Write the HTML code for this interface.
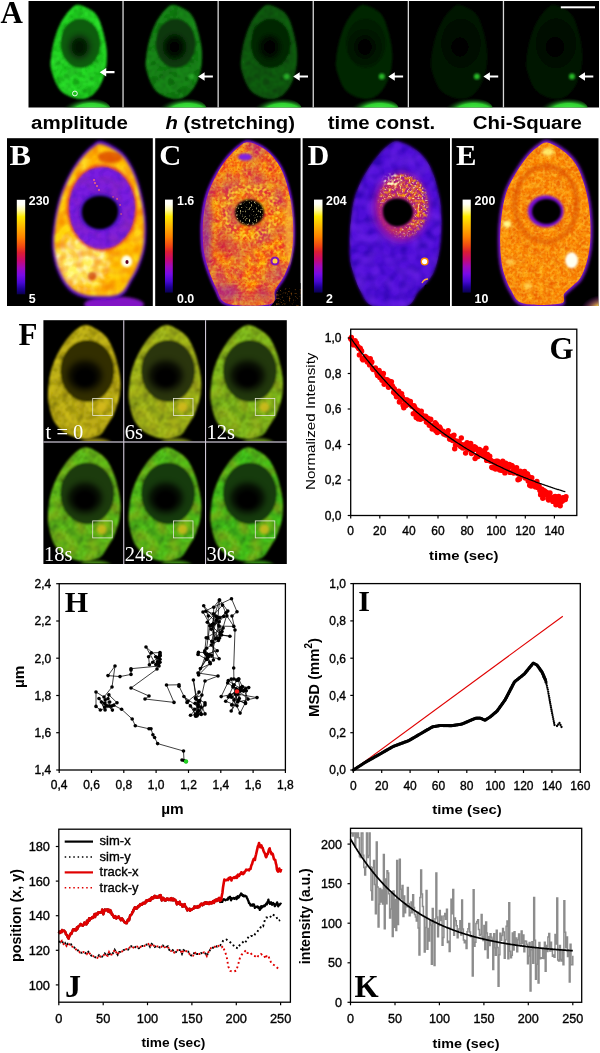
<!DOCTYPE html>
<html><head><meta charset="utf-8"><style>
html,body{margin:0;padding:0;background:#fff;}
body{width:600px;height:1053px;overflow:hidden;}
svg{display:block;will-change:transform;}
</style></head><body>
<svg width="600" height="1053" viewBox="0 0 600 1053">
<defs>
<filter id="soft" x="-20%" y="-20%" width="140%" height="140%"><feGaussianBlur stdDeviation="0.8"/></filter>
<filter id="soft2" x="-100%" y="-100%" width="300%" height="300%"><feGaussianBlur stdDeviation="1.6"/></filter>
<filter id="soft3" x="-100%" y="-100%" width="300%" height="300%"><feGaussianBlur stdDeviation="3"/></filter>
<filter id="ndark" x="0" y="0" width="100%" height="100%"><feTurbulence type="fractalNoise" baseFrequency="0.12" numOctaves="1" seed="4"/><feColorMatrix type="matrix" values="0 0 0 0 0  0 0 0 0 0  0 0 0 0 0  2.6 0 0 0 -1.05" result="n"/><feComposite in="SourceGraphic" in2="n" operator="in"/></filter>
<filter id="nlight" x="0" y="0" width="100%" height="100%"><feTurbulence type="fractalNoise" baseFrequency="0.09" numOctaves="1" seed="9"/><feColorMatrix type="matrix" values="0 0 0 0 0  0 0 0 0 0  0 0 0 0 0  2.4 0 0 0 -0.9" result="n"/><feComposite in="SourceGraphic" in2="n" operator="in"/></filter>
<filter id="nfine" x="0" y="0" width="100%" height="100%"><feTurbulence type="fractalNoise" baseFrequency="0.35" numOctaves="1" seed="2"/><feColorMatrix type="matrix" values="0 0 0 0 0  0 0 0 0 0  0 0 0 0 0  3.2 0 0 0 -1.35" result="n"/><feComposite in="SourceGraphic" in2="n" operator="in"/></filter>
<filter id="nfine2" x="0" y="0" width="100%" height="100%"><feTurbulence type="fractalNoise" baseFrequency="0.55" numOctaves="1" seed="13"/><feColorMatrix type="matrix" values="0 0 0 0 0  0 0 0 0 0  0 0 0 0 0  4 0 0 0 -2.2" result="n"/><feComposite in="SourceGraphic" in2="n" operator="in"/></filter>
<filter id="nmid" x="0" y="0" width="100%" height="100%"><feTurbulence type="fractalNoise" baseFrequency="0.18" numOctaves="1" seed="17"/><feColorMatrix type="matrix" values="0 0 0 0 0  0 0 0 0 0  0 0 0 0 0  2.4 0 0 0 -0.95" result="n"/><feComposite in="SourceGraphic" in2="n" operator="in"/></filter>
<filter id="nbig" x="0" y="0" width="100%" height="100%"><feTurbulence type="fractalNoise" baseFrequency="0.045" numOctaves="1" seed="23"/><feColorMatrix type="matrix" values="0 0 0 0 0  0 0 0 0 0  0 0 0 0 0  2.4 0 0 0 -0.9" result="n"/><feComposite in="SourceGraphic" in2="n" operator="in"/></filter>
<linearGradient id="fire" x1="0" y1="1" x2="0" y2="0">
<stop offset="0" stop-color="#0a0050"/><stop offset="0.06" stop-color="#1e0096"/><stop offset="0.12" stop-color="#4608d2"/><stop offset="0.2" stop-color="#780ae6"/><stop offset="0.28" stop-color="#a00abe"/><stop offset="0.36" stop-color="#c80a6e"/><stop offset="0.44" stop-color="#dc1e32"/><stop offset="0.5" stop-color="#f04614"/><stop offset="0.6" stop-color="#ff8200"/><stop offset="0.73" stop-color="#ffbe00"/><stop offset="0.82" stop-color="#ffeb00"/><stop offset="0.89" stop-color="#fffaa0"/><stop offset="0.95" stop-color="#fffff5"/><stop offset="1" stop-color="#ffffff"/></linearGradient>

<path id="cellA" d="M51.0,4.0 C55.0,4.9 63.0,8.1 67.0,12.8 C71.0,17.5 73.1,25.3 75.0,32.0 C76.9,38.7 78.1,46.4 78.4,52.8 C78.7,59.2 78.1,64.8 76.8,70.4 C75.5,76.0 73.1,82.1 70.4,86.4 C67.7,90.7 64.5,94.1 60.8,96.0 C57.1,97.9 52.8,98.7 48.0,97.6 C43.2,96.5 36.1,94.1 32.0,89.6 C27.9,85.1 24.8,75.7 23.2,70.4 C21.6,65.1 21.9,63.2 22.4,57.6 C22.9,52.0 24.5,43.2 26.4,36.8 C28.3,30.4 30.8,24.1 33.6,19.2 C36.4,14.3 40.3,9.7 43.2,7.2 C46.1,4.7 47.0,3.1 51.0,4.0Z"/>
<clipPath id="clipA"><path d="M51.0,4.0 C55.0,4.9 63.0,8.1 67.0,12.8 C71.0,17.5 73.1,25.3 75.0,32.0 C76.9,38.7 78.1,46.4 78.4,52.8 C78.7,59.2 78.1,64.8 76.8,70.4 C75.5,76.0 73.1,82.1 70.4,86.4 C67.7,90.7 64.5,94.1 60.8,96.0 C57.1,97.9 52.8,98.7 48.0,97.6 C43.2,96.5 36.1,94.1 32.0,89.6 C27.9,85.1 24.8,75.7 23.2,70.4 C21.6,65.1 21.9,63.2 22.4,57.6 C22.9,52.0 24.5,43.2 26.4,36.8 C28.3,30.4 30.8,24.1 33.6,19.2 C36.4,14.3 40.3,9.7 43.2,7.2 C46.1,4.7 47.0,3.1 51.0,4.0Z"/></clipPath>
<clipPath id="clipAsub"><rect x="0" y="0" width="94" height="106.5"/></clipPath>
<radialGradient id="botA" cx="0.62" cy="0.62" r="0.6"><stop offset="0" stop-color="#50ff50"/><stop offset="0.6" stop-color="#30d030"/><stop offset="1" stop-color="#0a300a" stop-opacity="0"/></radialGradient>
<radialGradient id="nucA" cx="0.48" cy="0.6" r="0.55"><stop offset="0" stop-color="#000"/><stop offset="0.35" stop-color="#000" stop-opacity="0.85"/><stop offset="1" stop-color="#000" stop-opacity="0"/></radialGradient>
<clipPath id="clipB"><path d="M102.5,141.2 C107.5,142.4 117.1,147.3 122.5,152.5 C127.9,157.7 131.7,165.0 135.0,172.5 C138.3,180.0 140.7,189.2 142.5,197.5 C144.3,205.8 145.6,214.2 146.0,222.5 C146.4,230.8 146.2,240.0 145.0,247.5 C143.8,255.0 141.3,261.7 139.0,267.5 C136.7,273.3 133.5,278.1 131.0,282.5 C128.5,286.9 127.2,291.2 124.0,294.0 C120.8,296.8 118.5,298.3 112.0,299.0 C105.5,299.7 92.3,299.7 85.0,298.0 C77.7,296.3 72.7,293.7 68.0,289.0 C63.3,284.3 59.6,276.9 57.0,270.0 C54.4,263.1 52.8,255.0 52.3,247.5 C51.8,240.0 52.6,232.9 53.7,225.0 C54.8,217.1 56.4,207.9 58.7,200.0 C61.0,192.1 64.0,184.6 67.5,177.5 C71.0,170.4 75.8,162.9 80.0,157.5 C84.2,152.1 88.8,147.7 92.5,145.0 C96.2,142.3 97.5,139.9 102.5,141.2Z"/></clipPath>
<clipPath id="clipPanelB"><rect x="7" y="138.2" width="145.8" height="167.8"/></clipPath>
<clipPath id="clipNucB"><ellipse cx="102" cy="208" rx="33" ry="41"/></clipPath>
<mask id="maskB"><path d="M102.5,141.2 C107.5,142.4 117.1,147.3 122.5,152.5 C127.9,157.7 131.7,165.0 135.0,172.5 C138.3,180.0 140.7,189.2 142.5,197.5 C144.3,205.8 145.6,214.2 146.0,222.5 C146.4,230.8 146.2,240.0 145.0,247.5 C143.8,255.0 141.3,261.7 139.0,267.5 C136.7,273.3 133.5,278.1 131.0,282.5 C128.5,286.9 127.2,291.2 124.0,294.0 C120.8,296.8 118.5,298.3 112.0,299.0 C105.5,299.7 92.3,299.7 85.0,298.0 C77.7,296.3 72.7,293.7 68.0,289.0 C63.3,284.3 59.6,276.9 57.0,270.0 C54.4,263.1 52.8,255.0 52.3,247.5 C51.8,240.0 52.6,232.9 53.7,225.0 C54.8,217.1 56.4,207.9 58.7,200.0 C61.0,192.1 64.0,184.6 67.5,177.5 C71.0,170.4 75.8,162.9 80.0,157.5 C84.2,152.1 88.8,147.7 92.5,145.0 C96.2,142.3 97.5,139.9 102.5,141.2Z" fill="#fff" transform="translate(99,222) scale(0.96) translate(-99,-222)" filter="url(#soft2)"/></mask>
<mask id="mBL"><ellipse cx="80" cy="262" rx="30" ry="30" fill="#fff" filter="url(#soft3)"/></mask>
<clipPath id="clipC"><path d="M248.2,140.2 C252.9,140.6 260.6,143.6 266.2,147.9 C271.8,152.2 277.6,158.7 281.7,166.0 C285.8,173.3 288.6,182.8 290.8,191.8 C293.0,200.8 294.1,211.6 294.7,220.2 C295.3,228.8 295.3,236.2 294.7,243.5 C294.1,250.8 292.5,258.2 290.8,264.2 C289.1,270.2 286.8,275.1 284.3,279.7 C281.8,284.3 278.1,287.6 276.0,292.0 C273.9,296.4 279.5,303.7 271.4,306.0 C263.3,308.3 237.0,308.7 227.5,306.0 C218.0,303.3 218.7,297.8 214.6,290.0 C210.5,282.2 205.4,268.5 203.0,259.0 C200.6,249.5 200.6,240.9 200.4,233.2 C200.2,225.4 200.8,219.0 201.7,212.5 C202.5,206.0 203.6,200.4 205.5,194.4 C207.4,188.4 210.1,182.3 213.3,176.3 C216.5,170.3 220.8,163.4 224.9,158.2 C229.0,153.0 233.9,148.3 237.8,145.3 C241.7,142.3 243.5,139.8 248.2,140.2Z"/></clipPath>
<clipPath id="clipPanelC"><rect x="155.2" y="138.2" width="145.4" height="167.8"/></clipPath>
<mask id="maskC"><path d="M248.2,140.2 C252.9,140.6 260.6,143.6 266.2,147.9 C271.8,152.2 277.6,158.7 281.7,166.0 C285.8,173.3 288.6,182.8 290.8,191.8 C293.0,200.8 294.1,211.6 294.7,220.2 C295.3,228.8 295.3,236.2 294.7,243.5 C294.1,250.8 292.5,258.2 290.8,264.2 C289.1,270.2 286.8,275.1 284.3,279.7 C281.8,284.3 278.1,287.6 276.0,292.0 C273.9,296.4 279.5,303.7 271.4,306.0 C263.3,308.3 237.0,308.7 227.5,306.0 C218.0,303.3 218.7,297.8 214.6,290.0 C210.5,282.2 205.4,268.5 203.0,259.0 C200.6,249.5 200.6,240.9 200.4,233.2 C200.2,225.4 200.8,219.0 201.7,212.5 C202.5,206.0 203.6,200.4 205.5,194.4 C207.4,188.4 210.1,182.3 213.3,176.3 C216.5,170.3 220.8,163.4 224.9,158.2 C229.0,153.0 233.9,148.3 237.8,145.3 C241.7,142.3 243.5,139.8 248.2,140.2Z" fill="#fff" transform="translate(252,225) scale(0.955,0.975) translate(-252,-225)" filter="url(#soft)"/></mask>
<clipPath id="clipHoleC"><ellipse cx="249.5" cy="212.5" rx="14.5" ry="13"/></clipPath>
<mask id="annC"><ellipse cx="250" cy="212" rx="26" ry="24" fill="none" stroke="#fff" stroke-width="10" filter="url(#soft2)"/></mask>
<clipPath id="clipD"><path d="M398.7,141.5 C403.4,142.4 411.6,146.4 416.8,150.5 C422.0,154.6 426.0,158.7 429.7,166.0 C433.4,173.3 436.9,185.4 438.8,194.4 C440.8,203.4 441.2,211.6 441.4,220.2 C441.6,228.8 441.2,237.9 440.1,246.1 C439.0,254.3 437.0,263.3 434.9,269.3 C432.8,275.3 430.0,278.4 427.2,282.2 C424.4,286.0 421.4,288.0 418.0,292.0 C414.6,296.0 414.0,303.7 406.5,306.0 C399.0,308.3 380.6,308.7 372.9,306.0 C365.1,303.3 363.6,297.0 360.0,290.0 C356.4,283.0 352.7,271.9 351.0,264.2 C349.3,256.4 349.7,250.8 349.7,243.5 C349.7,236.2 350.1,227.9 351.0,220.2 C351.9,212.4 352.4,204.7 354.8,197.0 C357.2,189.3 361.3,180.7 365.2,173.8 C369.1,166.9 374.1,160.4 378.0,155.7 C381.9,150.9 384.9,147.7 388.4,145.3 C391.8,142.9 394.0,140.6 398.7,141.5Z"/></clipPath>
<clipPath id="clipPanelD"><rect x="302.6" y="138.2" width="147.4" height="167.8"/></clipPath>
<radialGradient id="ringG" cx="0.62" cy="0.3" r="0.75"><stop offset="0" stop-color="#fff"/><stop offset="0.6" stop-color="#fff"/><stop offset="1" stop-color="#444"/></radialGradient>
<mask id="ringD"><rect x="300" y="138" width="150" height="168" fill="#000"/><ellipse cx="403" cy="206" rx="25" ry="32" fill="url(#ringG)" filter="url(#soft)"/><ellipse cx="397.5" cy="212.5" rx="17" ry="15.5" fill="#000" filter="url(#soft)"/><path d="M372,200 L392,215 L392,240 L372,240Z" fill="#000" opacity="0.6" filter="url(#soft2)"/></mask>
<mask id="mD2"><ellipse cx="392" cy="181" rx="9" ry="7" fill="#fff" filter="url(#soft2)"/></mask>
<clipPath id="clipE"><path d="M548.3,140.2 C553.0,141.3 561.2,146.2 566.4,150.5 C571.6,154.8 575.6,159.1 579.3,166.0 C583.0,172.9 586.2,183.2 588.4,191.8 C590.5,200.4 591.6,209.1 592.2,217.7 C592.8,226.3 592.8,235.8 592.2,243.5 C591.6,251.2 590.1,258.2 588.4,264.2 C586.7,270.2 584.3,275.8 581.9,279.7 C579.5,283.6 577.0,284.7 574.2,287.4 C571.4,290.1 567.2,292.9 565.0,296.0 C562.8,299.1 568.3,304.3 561.2,306.0 C554.1,307.7 531.1,308.2 522.5,306.0 C513.9,303.8 513.3,298.7 509.6,292.6 C505.9,286.5 502.4,277.5 500.5,269.3 C498.6,261.1 498.2,252.1 498.0,243.5 C497.8,234.9 498.1,226.3 499.2,217.7 C500.3,209.1 501.8,199.6 504.4,191.8 C507.0,184.1 510.8,177.6 514.7,171.2 C518.6,164.8 523.8,157.6 527.7,153.1 C531.6,148.6 534.6,146.2 538.0,144.0 C541.4,141.8 543.6,139.1 548.3,140.2Z"/></clipPath>
<clipPath id="clipPanelE"><rect x="451.8" y="138.2" width="146.7" height="167.8"/></clipPath>
<mask id="maskE"><path d="M548.3,140.2 C553.0,141.3 561.2,146.2 566.4,150.5 C571.6,154.8 575.6,159.1 579.3,166.0 C583.0,172.9 586.2,183.2 588.4,191.8 C590.5,200.4 591.6,209.1 592.2,217.7 C592.8,226.3 592.8,235.8 592.2,243.5 C591.6,251.2 590.1,258.2 588.4,264.2 C586.7,270.2 584.3,275.8 581.9,279.7 C579.5,283.6 577.0,284.7 574.2,287.4 C571.4,290.1 567.2,292.9 565.0,296.0 C562.8,299.1 568.3,304.3 561.2,306.0 C554.1,307.7 531.1,308.2 522.5,306.0 C513.9,303.8 513.3,298.7 509.6,292.6 C505.9,286.5 502.4,277.5 500.5,269.3 C498.6,261.1 498.2,252.1 498.0,243.5 C497.8,234.9 498.1,226.3 499.2,217.7 C500.3,209.1 501.8,199.6 504.4,191.8 C507.0,184.1 510.8,177.6 514.7,171.2 C518.6,164.8 523.8,157.6 527.7,153.1 C531.6,148.6 534.6,146.2 538.0,144.0 C541.4,141.8 543.6,139.1 548.3,140.2Z" fill="#fff" transform="translate(546,225) scale(0.955,0.97) translate(-546,-225)" filter="url(#soft)"/></mask>
<radialGradient id="brE" cx="0.6" cy="0.7" r="0.6"><stop offset="0" stop-color="#fffff0"/><stop offset="0.4" stop-color="#ffd040"/><stop offset="1" stop-color="#a020c0" stop-opacity="0"/></radialGradient>
<path id="cellF" d="M41.9,4.7 C45.7,4.5 50.4,7.3 54.0,9.5 C57.6,11.7 60.8,14.0 63.5,17.6 C66.2,21.2 68.3,26.1 70.2,31.0 C72.1,36.0 73.8,41.9 74.9,47.3 C76.0,52.7 76.9,58.3 77.0,63.5 C77.1,68.7 76.7,73.1 75.6,78.3 C74.5,83.5 72.2,90.0 70.2,94.5 C68.2,99.0 65.3,102.4 63.5,105.3 C61.7,108.2 61.0,110.2 59.4,112.0 C57.8,113.8 57.1,114.9 54.0,116.0 C50.9,117.1 45.7,119.2 40.5,118.8 C35.3,118.4 27.9,116.3 23.0,113.4 C18.1,110.5 13.7,106.2 10.8,101.3 C7.9,96.3 6.4,88.9 5.4,83.7 C4.4,78.5 4.4,75.6 4.7,70.2 C5.0,64.8 5.9,57.1 7.4,51.3 C8.9,45.4 11.1,40.0 13.5,35.1 C15.9,30.2 18.7,25.7 21.6,21.6 C24.5,17.6 27.6,13.6 31.0,10.8 C34.4,8.0 38.1,4.9 41.9,4.7Z"/>
<clipPath id="clipF"><path d="M41.9,4.7 C45.7,4.5 50.4,7.3 54.0,9.5 C57.6,11.7 60.8,14.0 63.5,17.6 C66.2,21.2 68.3,26.1 70.2,31.0 C72.1,36.0 73.8,41.9 74.9,47.3 C76.0,52.7 76.9,58.3 77.0,63.5 C77.1,68.7 76.7,73.1 75.6,78.3 C74.5,83.5 72.2,90.0 70.2,94.5 C68.2,99.0 65.3,102.4 63.5,105.3 C61.7,108.2 61.0,110.2 59.4,112.0 C57.8,113.8 57.1,114.9 54.0,116.0 C50.9,117.1 45.7,119.2 40.5,118.8 C35.3,118.4 27.9,116.3 23.0,113.4 C18.1,110.5 13.7,106.2 10.8,101.3 C7.9,96.3 6.4,88.9 5.4,83.7 C4.4,78.5 4.4,75.6 4.7,70.2 C5.0,64.8 5.9,57.1 7.4,51.3 C8.9,45.4 11.1,40.0 13.5,35.1 C15.9,30.2 18.7,25.7 21.6,21.6 C24.5,17.6 27.6,13.6 31.0,10.8 C34.4,8.0 38.1,4.9 41.9,4.7Z"/></clipPath>
<clipPath id="clipFsub"><rect x="0" y="0" width="80" height="121"/></clipPath>
</defs>
<rect width="600" height="1053" fill="#fff"/>
<rect x="28.5" y="1" width="570.5" height="106.5" fill="#000"/>
<g transform="translate(28.5,1)" clip-path="url(#clipAsub)">
<g filter="url(#soft)">
<use href="#cellA" fill="rgb(36,222,36)"/>
<rect x="15" y="0" width="70" height="100" fill="rgb(10,120,10)" opacity="0.55" filter="url(#ndark)" clip-path="url(#clipA)"/>
<rect x="15" y="0" width="70" height="100" fill="rgb(60,250,60)" opacity="0.5" filter="url(#nlight)" clip-path="url(#clipA)"/>
<rect x="15" y="0" width="70" height="100" fill="#000" opacity="0.2" filter="url(#nfine)" clip-path="url(#clipA)"/>
<circle cx="47.0" cy="81.0" r="3.2" fill="rgb(10,110,10)" opacity="0.45"/>
<circle cx="38.0" cy="75.0" r="2.6" fill="rgb(10,110,10)" opacity="0.45"/>
<circle cx="63.0" cy="78.0" r="2.4" fill="rgb(10,110,10)" opacity="0.45"/>
<circle cx="30.0" cy="62.0" r="2.5" fill="rgb(10,110,10)" opacity="0.45"/>
<circle cx="56.0" cy="90.0" r="2.2" fill="rgb(10,110,10)" opacity="0.45"/>
<circle cx="68.0" cy="60.0" r="2.0" fill="rgb(10,110,10)" opacity="0.45"/>
<ellipse cx="52" cy="42.4" rx="20" ry="24.8" fill="rgb(14,92,14)"/>
<ellipse cx="51" cy="46" rx="10" ry="11" fill="#000" opacity="0.75" filter="url(#soft3)"/>
</g>
<ellipse cx="57.0" cy="108" rx="25" ry="11.5" fill="url(#botA)"/>
<path d="M71.2,71.2 l6.5,-4.2 v3.1 h8.3 v2.2 h-8.3 v3.1 z" fill="#fff"/>
<circle cx="46.4" cy="92.5" r="2.4" fill="none" stroke="#fff" stroke-width="0.9"/>
</g>
<g transform="translate(123.6,1)" clip-path="url(#clipAsub)">
<g filter="url(#soft)">
<use href="#cellA" fill="rgb(22,138,22)"/>
<rect x="15" y="0" width="70" height="100" fill="rgb(6,74,6)" opacity="0.55" filter="url(#ndark)" clip-path="url(#clipA)"/>
<rect x="15" y="0" width="70" height="100" fill="rgb(37,155,37)" opacity="0.5" filter="url(#nlight)" clip-path="url(#clipA)"/>
<rect x="15" y="0" width="70" height="100" fill="#000" opacity="0.2" filter="url(#nfine)" clip-path="url(#clipA)"/>
<circle cx="47.0" cy="81.0" r="3.2" fill="rgb(6,68,6)" opacity="0.45"/>
<circle cx="38.0" cy="75.0" r="2.6" fill="rgb(6,68,6)" opacity="0.45"/>
<circle cx="63.0" cy="78.0" r="2.4" fill="rgb(6,68,6)" opacity="0.45"/>
<circle cx="30.0" cy="62.0" r="2.5" fill="rgb(6,68,6)" opacity="0.45"/>
<circle cx="56.0" cy="90.0" r="2.2" fill="rgb(6,68,6)" opacity="0.45"/>
<circle cx="68.0" cy="60.0" r="2.0" fill="rgb(6,68,6)" opacity="0.45"/>
<ellipse cx="52" cy="42.4" rx="20" ry="24.8" fill="rgb(9,57,9)"/>
<ellipse cx="51" cy="46" rx="10" ry="11" fill="#000" opacity="0.95" filter="url(#soft3)"/>
</g>
<ellipse cx="58.0" cy="108" rx="25" ry="11.5" fill="url(#botA)"/>
<circle cx="68" cy="75.5" r="3" fill="rgb(40,165,40)" filter="url(#soft)"/>
<path d="M74.5,75.5 l6.5,-4.2 v3.1 h8.3 v2.2 h-8.3 v3.1 z" fill="#fff"/>
</g>
<g transform="translate(218.7,1)" clip-path="url(#clipAsub)">
<g filter="url(#soft)">
<use href="#cellA" fill="rgb(15,95,15)"/>
<rect x="15" y="0" width="70" height="100" fill="rgb(4,52,4)" opacity="0.55" filter="url(#ndark)" clip-path="url(#clipA)"/>
<rect x="15" y="0" width="70" height="100" fill="rgb(26,108,26)" opacity="0.5" filter="url(#nlight)" clip-path="url(#clipA)"/>
<rect x="15" y="0" width="70" height="100" fill="#000" opacity="0.2" filter="url(#nfine)" clip-path="url(#clipA)"/>
<circle cx="47.0" cy="81.0" r="3.2" fill="rgb(4,47,4)" opacity="0.45"/>
<circle cx="38.0" cy="75.0" r="2.6" fill="rgb(4,47,4)" opacity="0.45"/>
<circle cx="63.0" cy="78.0" r="2.4" fill="rgb(4,47,4)" opacity="0.45"/>
<circle cx="30.0" cy="62.0" r="2.5" fill="rgb(4,47,4)" opacity="0.45"/>
<circle cx="56.0" cy="90.0" r="2.2" fill="rgb(4,47,4)" opacity="0.45"/>
<circle cx="68.0" cy="60.0" r="2.0" fill="rgb(4,47,4)" opacity="0.45"/>
<ellipse cx="52" cy="42.4" rx="20" ry="24.8" fill="rgb(6,40,6)"/>
<ellipse cx="51" cy="46" rx="10" ry="11" fill="#000" opacity="0.95" filter="url(#soft3)"/>
</g>
<ellipse cx="58.0" cy="108" rx="25" ry="11.5" fill="url(#botA)"/>
<circle cx="68" cy="75.5" r="3" fill="rgb(40,172,40)" filter="url(#soft)"/>
<path d="M74.5,75.5 l6.5,-4.2 v3.1 h8.3 v2.2 h-8.3 v3.1 z" fill="#fff"/>
</g>
<g transform="translate(313.8,1)" clip-path="url(#clipAsub)">
<g filter="url(#soft)">
<use href="#cellA" fill="rgb(6,38,6)"/>
<ellipse cx="52" cy="42.4" rx="20" ry="24.8" fill="rgb(4,26,4)"/>
<ellipse cx="51" cy="46" rx="10" ry="11" fill="#000" opacity="0.95" filter="url(#soft3)"/>
</g>
<ellipse cx="60.0" cy="108" rx="25" ry="11.5" fill="url(#botA)"/>
<circle cx="68" cy="75.5" r="3" fill="rgb(40,183,40)" filter="url(#soft)"/>
<path d="M74.5,75.5 l6.5,-4.2 v3.1 h8.3 v2.2 h-8.3 v3.1 z" fill="#fff"/>
</g>
<g transform="translate(408.9,1)" clip-path="url(#clipAsub)">
<g filter="url(#soft)">
<use href="#cellA" fill="rgb(4,23,4)"/>
<ellipse cx="52" cy="42.4" rx="20" ry="24.8" fill="rgb(3,16,3)"/>
<ellipse cx="51" cy="46" rx="10" ry="11" fill="#000" opacity="0.95" filter="url(#soft3)"/>
</g>
<ellipse cx="59.0" cy="108" rx="25" ry="11.5" fill="url(#botA)"/>
<circle cx="68" cy="75.5" r="3" fill="rgb(40,185,40)" filter="url(#soft)"/>
<path d="M74.5,75.5 l6.5,-4.2 v3.1 h8.3 v2.2 h-8.3 v3.1 z" fill="#fff"/>
</g>
<g transform="translate(504.0,1)" clip-path="url(#clipAsub)">
<g filter="url(#soft)">
<use href="#cellA" fill="rgb(3,20,3)"/>
<ellipse cx="52" cy="42.4" rx="20" ry="24.8" fill="rgb(2,14,2)"/>
<ellipse cx="51" cy="46" rx="10" ry="11" fill="#000" opacity="0.95" filter="url(#soft3)"/>
</g>
<ellipse cx="59.0" cy="108" rx="25" ry="11.5" fill="url(#botA)"/>
<circle cx="68" cy="75.5" r="3" fill="rgb(40,186,40)" filter="url(#soft)"/>
<path d="M74.5,75.5 l6.5,-4.2 v3.1 h8.3 v2.2 h-8.3 v3.1 z" fill="#fff"/>
</g>
<rect x="122.4" y="1" width="1.3" height="106.5" fill="#d8d8d8"/>
<rect x="217.5" y="1" width="1.3" height="106.5" fill="#d8d8d8"/>
<rect x="312.6" y="1" width="1.3" height="106.5" fill="#d8d8d8"/>
<rect x="407.7" y="1" width="1.3" height="106.5" fill="#d8d8d8"/>
<rect x="502.8" y="1" width="1.3" height="106.5" fill="#d8d8d8"/>
<rect x="560.8" y="6.3" width="34.2" height="2" fill="#fff"/>
<text x="0.6" y="23" font-family='"Liberation Serif", serif' font-weight="bold" font-size="31">A</text>
<text x="31.0" y="128.8" font-family='"Liberation Sans", sans-serif' font-weight="bold" font-size="18.9" textLength="97.0" lengthAdjust="spacingAndGlyphs">amplitude</text>
<text x="165.5" y="128.8" font-family='"Liberation Sans", sans-serif' font-weight="bold" font-size="18.9" textLength="129.5" lengthAdjust="spacingAndGlyphs"><tspan font-style="italic">h</tspan> (stretching)</text>
<text x="327.8" y="128.8" font-family='"Liberation Sans", sans-serif' font-weight="bold" font-size="18.9" textLength="107.5" lengthAdjust="spacingAndGlyphs">time const.</text>
<text x="472.8" y="128.8" font-family='"Liberation Sans", sans-serif' font-weight="bold" font-size="18.9" textLength="109.0" lengthAdjust="spacingAndGlyphs">Chi-Square</text>
<rect x="7.0" y="138.2" width="145.8" height="167.8" fill="#000"/>
<rect x="155.2" y="138.2" width="145.4" height="167.8" fill="#000"/>
<rect x="302.6" y="138.2" width="147.4" height="167.8" fill="#000"/>
<rect x="451.8" y="138.2" width="146.7" height="167.8" fill="#000"/>
<g clip-path="url(#clipPanelB)">
<ellipse cx="114" cy="304.5" rx="30" ry="8" fill="#8a18d0" opacity="0.95" filter="url(#soft2)"/>
<path d="M102.5,141.2 C107.5,142.4 117.1,147.3 122.5,152.5 C127.9,157.7 131.7,165.0 135.0,172.5 C138.3,180.0 140.7,189.2 142.5,197.5 C144.3,205.8 145.6,214.2 146.0,222.5 C146.4,230.8 146.2,240.0 145.0,247.5 C143.8,255.0 141.3,261.7 139.0,267.5 C136.7,273.3 133.5,278.1 131.0,282.5 C128.5,286.9 127.2,291.2 124.0,294.0 C120.8,296.8 118.5,298.3 112.0,299.0 C105.5,299.7 92.3,299.7 85.0,298.0 C77.7,296.3 72.7,293.7 68.0,289.0 C63.3,284.3 59.6,276.9 57.0,270.0 C54.4,263.1 52.8,255.0 52.3,247.5 C51.8,240.0 52.6,232.9 53.7,225.0 C54.8,217.1 56.4,207.9 58.7,200.0 C61.0,192.1 64.0,184.6 67.5,177.5 C71.0,170.4 75.8,162.9 80.0,157.5 C84.2,152.1 88.8,147.7 92.5,145.0 C96.2,142.3 97.5,139.9 102.5,141.2Z" fill="#5a10c8" filter="url(#soft2)"/>
<g mask="url(#maskB)">
<rect x="45" y="138" width="105" height="168" fill="#ffb000"/>
<rect x="45" y="138" width="105" height="168" fill="#ffe830" opacity="0.9" filter="url(#nlight)"/>
<rect x="45" y="138" width="105" height="168" fill="#ffe000" opacity="0.7" filter="url(#nbig)"/>
<ellipse cx="80" cy="262" rx="26" ry="24" fill="#ffff80" opacity="0.7" filter="url(#soft3)"/>
<rect x="45" y="225" width="75" height="80" fill="#ffffd8" opacity="0.75" filter="url(#nmid)" mask="url(#mBL)"/>
<rect x="45" y="138" width="105" height="168" fill="#f06000" opacity="0.5" filter="url(#ndark)"/>
<ellipse cx="110" cy="157" rx="12" ry="6" fill="#d83800" opacity="0.7" filter="url(#soft2)"/>
<ellipse cx="92" cy="276" rx="4" ry="4" fill="#c02000" opacity="0.6" filter="url(#soft)"/>
<ellipse cx="126.6" cy="261.3" rx="5.5" ry="6" fill="#ffffe8" filter="url(#soft)"/>
<ellipse cx="127" cy="262" rx="1.6" ry="2" fill="#600020"/>
</g>
<ellipse cx="102" cy="208" rx="35.5" ry="43.5" fill="#e03030" opacity="0.7" filter="url(#soft2)"/>
<ellipse cx="102" cy="208" rx="33" ry="41" fill="#7a1ee0" filter="url(#soft)"/>
<g clip-path="url(#clipNucB)">
<rect x="68" y="166" width="68" height="84" fill="#5010c0" opacity="0.5" filter="url(#nmid)"/>
<rect x="68" y="166" width="68" height="84" fill="#a030a8" opacity="0.45" filter="url(#nlight)"/>
</g>
<circle cx="94" cy="180" r="0.9" fill="#ff7070"/>
<circle cx="97" cy="186" r="0.9" fill="#ff7070"/>
<circle cx="99" cy="190" r="0.9" fill="#ff7070"/>
<circle cx="113" cy="197" r="0.9" fill="#ff7070"/>
<circle cx="117" cy="199" r="0.9" fill="#ff7070"/>
<circle cx="120" cy="205" r="0.9" fill="#ff7070"/>
<circle cx="111" cy="202" r="0.9" fill="#ff7070"/>
<circle cx="95" cy="183" r="0.9" fill="#ff7070"/>
<circle cx="121" cy="214" r="0.9" fill="#ff7070"/>
<ellipse cx="100" cy="212" rx="21" ry="19" fill="#3a10b0" opacity="0.8" filter="url(#soft2)"/>
<path d="M82,212 C82,202 90,196 100,196 C110,196 118,202 118,211 C118,221 110,229 100,229 C90,229 82,222 82,212Z" fill="#000" filter="url(#soft)"/>
</g>
<text x="9.6" y="164.6" font-family='"Liberation Serif", serif' font-weight="bold" font-size="30" fill="#fff" textLength="21.5" lengthAdjust="spacingAndGlyphs">B</text>
<rect x="16.8" y="199.8" width="8.4" height="94.5" fill="url(#fire)"/>
<text x="28.8" y="205" font-family='"Liberation Sans", sans-serif' font-weight="bold" font-size="12.4" fill="#fff">230</text>
<text x="28.8" y="303" font-family='"Liberation Sans", sans-serif' font-weight="bold" font-size="12.4" fill="#fff">5</text>
<g clip-path="url(#clipPanelC)">
<path d="M248.2,140.2 C252.9,140.6 260.6,143.6 266.2,147.9 C271.8,152.2 277.6,158.7 281.7,166.0 C285.8,173.3 288.6,182.8 290.8,191.8 C293.0,200.8 294.1,211.6 294.7,220.2 C295.3,228.8 295.3,236.2 294.7,243.5 C294.1,250.8 292.5,258.2 290.8,264.2 C289.1,270.2 286.8,275.1 284.3,279.7 C281.8,284.3 278.1,287.6 276.0,292.0 C273.9,296.4 279.5,303.7 271.4,306.0 C263.3,308.3 237.0,308.7 227.5,306.0 C218.0,303.3 218.7,297.8 214.6,290.0 C210.5,282.2 205.4,268.5 203.0,259.0 C200.6,249.5 200.6,240.9 200.4,233.2 C200.2,225.4 200.8,219.0 201.7,212.5 C202.5,206.0 203.6,200.4 205.5,194.4 C207.4,188.4 210.1,182.3 213.3,176.3 C216.5,170.3 220.8,163.4 224.9,158.2 C229.0,153.0 233.9,148.3 237.8,145.3 C241.7,142.3 243.5,139.8 248.2,140.2Z" fill="#7010d0" filter="url(#soft)"/>
<g mask="url(#maskC)">
<rect x="195" y="138" width="105" height="168" fill="#ff8000"/>
<rect x="195" y="138" width="105" height="168" fill="#e81830" opacity="0.9" filter="url(#nlight)"/>
<rect x="195" y="138" width="105" height="168" fill="#ffd000" opacity="0.95" filter="url(#nmid)"/>
<rect x="195" y="138" width="105" height="168" fill="#c00860" opacity="0.4" filter="url(#ndark)"/>
<rect x="195" y="138" width="105" height="168" fill="#ffe030" opacity="0.6" filter="url(#nfine)"/>
<rect x="195" y="138" width="105" height="168" fill="#f03000" opacity="0.6" filter="url(#nfine2)"/>
<rect x="195" y="138" width="105" height="168" fill="#9010c0" opacity="0.35" filter="url(#nbig)"/>
</g>
<g clip-path="url(#clipC)">
<ellipse cx="206" cy="232" rx="5" ry="42" fill="#7010c8" opacity="0.6" filter="url(#soft3)"/>
<ellipse cx="226" cy="292" rx="13" ry="9" fill="#9010b0" opacity="0.55" filter="url(#soft3)"/>
<ellipse cx="262" cy="294" rx="9" ry="6" fill="#a01090" opacity="0.5" filter="url(#soft3)"/>
<ellipse cx="222" cy="246" rx="7" ry="9" fill="#c01050" opacity="0.5" filter="url(#soft3)"/>
<ellipse cx="289" cy="232" rx="4" ry="34" fill="#ffc830" opacity="0.6" filter="url(#soft2)"/>
<rect x="220" y="184" width="60" height="56" fill="#ffd830" opacity="0.8" filter="url(#nfine)" mask="url(#annC)"/>
</g>
<ellipse cx="245" cy="157" rx="7" ry="3.5" fill="#8020e0" filter="url(#soft)"/>
<ellipse cx="249.5" cy="212.5" rx="14.5" ry="13" fill="#000" filter="url(#soft)"/>
<rect x="234" y="199" width="31" height="27" fill="#fff0a0" opacity="0.9" filter="url(#nfine2)" clip-path="url(#clipHoleC)"/>
<circle cx="275" cy="261" r="3.5" fill="#ffd040" stroke="#8010c0" stroke-width="2"/>
<path d="M283,290 Q290,284 301,283 L301,306 L271,306 Z" fill="#000"/>
<rect x="268" y="288" width="33" height="18" fill="#ff9020" opacity="0.5" filter="url(#nfine2)"/>
</g>
<text x="159.2" y="164.7" font-family='"Liberation Serif", serif' font-weight="bold" font-size="30" fill="#fff" textLength="22.0" lengthAdjust="spacingAndGlyphs">C</text>
<rect x="165.0" y="199.6" width="7.8" height="93.0" fill="url(#fire)"/>
<text x="177.0" y="205" font-family='"Liberation Sans", sans-serif' font-weight="bold" font-size="12.4" fill="#fff">1.6</text>
<text x="177.0" y="303" font-family='"Liberation Sans", sans-serif' font-weight="bold" font-size="12.4" fill="#fff">0.0</text>
<g clip-path="url(#clipPanelD)">
<path d="M398.7,141.5 C403.4,142.4 411.6,146.4 416.8,150.5 C422.0,154.6 426.0,158.7 429.7,166.0 C433.4,173.3 436.9,185.4 438.8,194.4 C440.8,203.4 441.2,211.6 441.4,220.2 C441.6,228.8 441.2,237.9 440.1,246.1 C439.0,254.3 437.0,263.3 434.9,269.3 C432.8,275.3 430.0,278.4 427.2,282.2 C424.4,286.0 421.4,288.0 418.0,292.0 C414.6,296.0 414.0,303.7 406.5,306.0 C399.0,308.3 380.6,308.7 372.9,306.0 C365.1,303.3 363.6,297.0 360.0,290.0 C356.4,283.0 352.7,271.9 351.0,264.2 C349.3,256.4 349.7,250.8 349.7,243.5 C349.7,236.2 350.1,227.9 351.0,220.2 C351.9,212.4 352.4,204.7 354.8,197.0 C357.2,189.3 361.3,180.7 365.2,173.8 C369.1,166.9 374.1,160.4 378.0,155.7 C381.9,150.9 384.9,147.7 388.4,145.3 C391.8,142.9 394.0,140.6 398.7,141.5Z" fill="#5010d8" filter="url(#soft2)"/>
<g clip-path="url(#clipD)">
<rect x="345" y="138" width="100" height="168" fill="#2000a0" opacity="0.6" filter="url(#ndark)"/>
<rect x="345" y="138" width="100" height="168" fill="#8030f0" opacity="0.5" filter="url(#nlight)"/>
</g>
<ellipse cx="401" cy="207" rx="28" ry="35" fill="#a01898" opacity="0.8" filter="url(#soft3)"/>
<ellipse cx="401" cy="206" rx="24" ry="30" fill="#c02070" opacity="0.6" filter="url(#soft2)"/>
<g mask="url(#ringD)">
<rect x="370" y="170" width="65" height="75" fill="#f05000" opacity="0.6" filter="url(#nmid)"/>
<rect x="370" y="170" width="65" height="75" fill="#ffb000" opacity="0.85" filter="url(#nfine)"/>
<rect x="370" y="170" width="65" height="75" fill="#ffffb0" opacity="1" filter="url(#nfine2)"/>
</g>
<rect x="380" y="170" width="25" height="22" fill="#ffffe0" opacity="0.9" filter="url(#nfine)" mask="url(#mD2)"/>
<path d="M383,212 C382,203 390,198 398,198.5 C407,199 413,205 413,212 C413,220 406,226 397,226.5 C389,226 383,220 383,212Z" fill="#000" filter="url(#soft)"/>
<circle cx="424.6" cy="261.6" r="3.3" fill="#fff" stroke="#ff9000" stroke-width="1.4"/>
<path d="M422,283 q2,-4 6,-4" stroke="#ffb040" stroke-width="1.4" fill="none"/>
<path d="M425,285 L451,282 L451,306 L420,306 Z" fill="#000"/>
</g>
<text x="307.8" y="164.7" font-family='"Liberation Serif", serif' font-weight="bold" font-size="30" fill="#fff" textLength="21.5" lengthAdjust="spacingAndGlyphs">D</text>
<rect x="314.0" y="199.6" width="8.5" height="93.0" fill="url(#fire)"/>
<text x="326.0" y="205" font-family='"Liberation Sans", sans-serif' font-weight="bold" font-size="12.4" fill="#fff">204</text>
<text x="326.0" y="303" font-family='"Liberation Sans", sans-serif' font-weight="bold" font-size="12.4" fill="#fff">2</text>
<g clip-path="url(#clipPanelE)">
<ellipse cx="600" cy="306" rx="20" ry="14" fill="url(#brE)"/>
<path d="M548.3,140.2 C553.0,141.3 561.2,146.2 566.4,150.5 C571.6,154.8 575.6,159.1 579.3,166.0 C583.0,172.9 586.2,183.2 588.4,191.8 C590.5,200.4 591.6,209.1 592.2,217.7 C592.8,226.3 592.8,235.8 592.2,243.5 C591.6,251.2 590.1,258.2 588.4,264.2 C586.7,270.2 584.3,275.8 581.9,279.7 C579.5,283.6 577.0,284.7 574.2,287.4 C571.4,290.1 567.2,292.9 565.0,296.0 C562.8,299.1 568.3,304.3 561.2,306.0 C554.1,307.7 531.1,308.2 522.5,306.0 C513.9,303.8 513.3,298.7 509.6,292.6 C505.9,286.5 502.4,277.5 500.5,269.3 C498.6,261.1 498.2,252.1 498.0,243.5 C497.8,234.9 498.1,226.3 499.2,217.7 C500.3,209.1 501.8,199.6 504.4,191.8 C507.0,184.1 510.8,177.6 514.7,171.2 C518.6,164.8 523.8,157.6 527.7,153.1 C531.6,148.6 534.6,146.2 538.0,144.0 C541.4,141.8 543.6,139.1 548.3,140.2Z" fill="#7a18d0" filter="url(#soft2)"/>
<g mask="url(#maskE)">
<rect x="495" y="138" width="100" height="168" fill="#fa8200"/>
<rect x="495" y="138" width="100" height="168" fill="#e04800" opacity="0.5" filter="url(#nlight)"/>
<rect x="495" y="138" width="100" height="168" fill="#ffb818" opacity="0.7" filter="url(#nmid)"/>
<rect x="495" y="138" width="100" height="168" fill="#ffd040" opacity="0.5" filter="url(#nfine)"/>
<rect x="495" y="138" width="100" height="168" fill="#d83800" opacity="0.35" filter="url(#nfine2)"/>
<ellipse cx="546" cy="204" rx="31" ry="38" fill="none" stroke="#d84800" stroke-width="5" opacity="0.55" filter="url(#soft2)"/>
<ellipse cx="507" cy="224" rx="4" ry="3.5" fill="#ffff90" filter="url(#soft2)"/>
<ellipse cx="548" cy="152" rx="6" ry="4" fill="#ffff80" opacity="0.8" filter="url(#soft2)"/>
<ellipse cx="528" cy="286" rx="4" ry="3" fill="#ffe060" opacity="0.8" filter="url(#soft2)"/>
<ellipse cx="510" cy="262" rx="4" ry="3" fill="#ffe060" opacity="0.7" filter="url(#soft2)"/>
</g>
<ellipse cx="545.7" cy="211.2" rx="18" ry="16" fill="#7a10d0" filter="url(#soft)"/>
<ellipse cx="546.5" cy="211.5" rx="14.5" ry="12.5" fill="#000" filter="url(#soft)"/>
<ellipse cx="571.6" cy="260.3" rx="6.5" ry="8" fill="#fffff0" filter="url(#soft)"/>
</g>
<text x="456.0" y="164.7" font-family='"Liberation Serif", serif' font-weight="bold" font-size="30" fill="#fff" textLength="20.5" lengthAdjust="spacingAndGlyphs">E</text>
<rect x="462.6" y="199.6" width="8.2" height="93.0" fill="url(#fire)"/>
<text x="474.6" y="205" font-family='"Liberation Sans", sans-serif' font-weight="bold" font-size="12.4" fill="#fff">200</text>
<text x="474.6" y="303" font-family='"Liberation Sans", sans-serif' font-weight="bold" font-size="12.4" fill="#fff">10</text>
<rect x="43.4" y="320.2" width="243.4" height="243.8" fill="#000"/>
<g transform="translate(43.4,320.2)" clip-path="url(#clipFsub)">
<ellipse cx="52" cy="124" rx="16" ry="6" fill="rgb(200,186,22)" opacity="0.7" filter="url(#soft2)"/>
<g filter="url(#soft)">
<use href="#cellF" fill="rgb(200,186,22)"/>
<rect x="0" y="0" width="80" height="121" fill="#000" opacity="0.3" filter="url(#ndark)" clip-path="url(#clipF)"/>
<rect x="0" y="0" width="80" height="121" fill="rgb(210,160,30)" opacity="0.15" filter="url(#nlight)" clip-path="url(#clipF)"/>
<rect x="0" y="0" width="80" height="121" fill="#000" opacity="0.22" filter="url(#nfine)" clip-path="url(#clipF)"/>
<rect x="0" y="0" width="80" height="121" fill="rgb(229,213,25)" opacity="0.35" filter="url(#nmid)" clip-path="url(#clipF)"/>
<ellipse cx="43.9" cy="50.8" rx="27" ry="31" fill="rgb(50,46,5)"/>
</g>
<ellipse cx="41.5" cy="55.5" rx="17" ry="15" fill="#000" opacity="0.85" filter="url(#soft3)"/>
<ellipse cx="41.5" cy="57" rx="10" ry="9" fill="#000" filter="url(#soft2)"/>
<ellipse cx="58.5" cy="87" rx="5" ry="5" fill="rgb(220,190,30)" opacity="0.8" filter="url(#soft2)"/>
<rect x="49.3" y="78.3" width="19.5" height="17" fill="none" stroke="#e8e8d8" stroke-width="0.8"/>
<text x="2.2" y="118.6" font-family='"Liberation Serif", serif' font-size="20.5" fill="#fff">t = 0</text>
</g>
<g transform="translate(124.2,320.2)" clip-path="url(#clipFsub)">
<ellipse cx="52" cy="124" rx="16" ry="6" fill="rgb(168,190,28)" opacity="0.7" filter="url(#soft2)"/>
<g filter="url(#soft)">
<use href="#cellF" fill="rgb(168,190,28)"/>
<rect x="0" y="0" width="80" height="121" fill="#000" opacity="0.3" filter="url(#ndark)" clip-path="url(#clipF)"/>
<rect x="0" y="0" width="80" height="121" fill="rgb(210,160,30)" opacity="0.21" filter="url(#nlight)" clip-path="url(#clipF)"/>
<rect x="0" y="0" width="80" height="121" fill="#000" opacity="0.22" filter="url(#nfine)" clip-path="url(#clipF)"/>
<rect x="0" y="0" width="80" height="121" fill="rgb(193,218,32)" opacity="0.35" filter="url(#nmid)" clip-path="url(#clipF)"/>
<ellipse cx="43.9" cy="50.8" rx="27" ry="31" fill="rgb(42,52,7)"/>
</g>
<ellipse cx="41.5" cy="55.5" rx="17" ry="15" fill="#000" opacity="0.85" filter="url(#soft3)"/>
<ellipse cx="41.5" cy="57" rx="10" ry="9" fill="#000" filter="url(#soft2)"/>
<ellipse cx="58.5" cy="87" rx="5" ry="5" fill="rgb(220,190,30)" opacity="0.8" filter="url(#soft2)"/>
<rect x="49.3" y="78.3" width="19.5" height="17" fill="none" stroke="#e8e8d8" stroke-width="0.8"/>
<text x="0.6" y="118.6" font-family='"Liberation Serif", serif' font-size="20.5" fill="#fff">6s</text>
</g>
<g transform="translate(206.0,320.2)" clip-path="url(#clipFsub)">
<ellipse cx="52" cy="124" rx="16" ry="6" fill="rgb(135,195,30)" opacity="0.7" filter="url(#soft2)"/>
<g filter="url(#soft)">
<use href="#cellF" fill="rgb(135,195,30)"/>
<rect x="0" y="0" width="80" height="121" fill="#000" opacity="0.3" filter="url(#ndark)" clip-path="url(#clipF)"/>
<rect x="0" y="0" width="80" height="121" fill="rgb(210,160,30)" opacity="0.27" filter="url(#nlight)" clip-path="url(#clipF)"/>
<rect x="0" y="0" width="80" height="121" fill="#000" opacity="0.22" filter="url(#nfine)" clip-path="url(#clipF)"/>
<rect x="0" y="0" width="80" height="121" fill="rgb(155,224,34)" opacity="0.35" filter="url(#nmid)" clip-path="url(#clipF)"/>
<ellipse cx="43.9" cy="50.8" rx="27" ry="31" fill="rgb(36,55,7)"/>
</g>
<ellipse cx="41.5" cy="55.5" rx="17" ry="15" fill="#000" opacity="0.85" filter="url(#soft3)"/>
<ellipse cx="41.5" cy="57" rx="10" ry="9" fill="#000" filter="url(#soft2)"/>
<ellipse cx="58.5" cy="87" rx="5" ry="5" fill="rgb(220,190,30)" opacity="0.8" filter="url(#soft2)"/>
<rect x="49.3" y="78.3" width="19.5" height="17" fill="none" stroke="#e8e8d8" stroke-width="0.8"/>
<text x="0.6" y="118.6" font-family='"Liberation Serif", serif' font-size="20.5" fill="#fff">12s</text>
</g>
<g transform="translate(43.4,442.6)" clip-path="url(#clipFsub)">
<ellipse cx="52" cy="124" rx="16" ry="6" fill="rgb(98,195,28)" opacity="0.7" filter="url(#soft2)"/>
<g filter="url(#soft)">
<use href="#cellF" fill="rgb(98,195,28)"/>
<rect x="0" y="0" width="80" height="121" fill="#000" opacity="0.3" filter="url(#ndark)" clip-path="url(#clipF)"/>
<rect x="0" y="0" width="80" height="121" fill="rgb(210,160,30)" opacity="0.33" filter="url(#nlight)" clip-path="url(#clipF)"/>
<rect x="0" y="0" width="80" height="121" fill="#000" opacity="0.22" filter="url(#nfine)" clip-path="url(#clipF)"/>
<rect x="0" y="0" width="80" height="121" fill="rgb(112,224,32)" opacity="0.35" filter="url(#nmid)" clip-path="url(#clipF)"/>
<ellipse cx="43.9" cy="50.8" rx="27" ry="31" fill="rgb(26,58,7)"/>
</g>
<ellipse cx="41.5" cy="55.5" rx="17" ry="15" fill="#000" opacity="0.85" filter="url(#soft3)"/>
<ellipse cx="41.5" cy="57" rx="10" ry="9" fill="#000" filter="url(#soft2)"/>
<ellipse cx="58.5" cy="87" rx="5" ry="5" fill="rgb(220,190,30)" opacity="0.8" filter="url(#soft2)"/>
<rect x="49.3" y="78.3" width="19.5" height="17" fill="none" stroke="#e8e8d8" stroke-width="0.8"/>
<text x="0.6" y="118.6" font-family='"Liberation Serif", serif' font-size="20.5" fill="#fff">18s</text>
</g>
<g transform="translate(124.2,442.6)" clip-path="url(#clipFsub)">
<ellipse cx="52" cy="124" rx="16" ry="6" fill="rgb(84,198,28)" opacity="0.7" filter="url(#soft2)"/>
<g filter="url(#soft)">
<use href="#cellF" fill="rgb(84,198,28)"/>
<rect x="0" y="0" width="80" height="121" fill="#000" opacity="0.3" filter="url(#ndark)" clip-path="url(#clipF)"/>
<rect x="0" y="0" width="80" height="121" fill="rgb(210,160,30)" opacity="0.39" filter="url(#nlight)" clip-path="url(#clipF)"/>
<rect x="0" y="0" width="80" height="121" fill="#000" opacity="0.22" filter="url(#nfine)" clip-path="url(#clipF)"/>
<rect x="0" y="0" width="80" height="121" fill="rgb(96,227,32)" opacity="0.35" filter="url(#nmid)" clip-path="url(#clipF)"/>
<ellipse cx="43.9" cy="50.8" rx="27" ry="31" fill="rgb(23,58,7)"/>
</g>
<ellipse cx="41.5" cy="55.5" rx="17" ry="15" fill="#000" opacity="0.85" filter="url(#soft3)"/>
<ellipse cx="41.5" cy="57" rx="10" ry="9" fill="#000" filter="url(#soft2)"/>
<ellipse cx="58.5" cy="87" rx="5" ry="5" fill="rgb(220,190,30)" opacity="0.8" filter="url(#soft2)"/>
<rect x="49.3" y="78.3" width="19.5" height="17" fill="none" stroke="#e8e8d8" stroke-width="0.8"/>
<text x="0.6" y="118.6" font-family='"Liberation Serif", serif' font-size="20.5" fill="#fff">24s</text>
</g>
<g transform="translate(206.0,442.6)" clip-path="url(#clipFsub)">
<ellipse cx="52" cy="124" rx="16" ry="6" fill="rgb(70,200,28)" opacity="0.7" filter="url(#soft2)"/>
<g filter="url(#soft)">
<use href="#cellF" fill="rgb(70,200,28)"/>
<rect x="0" y="0" width="80" height="121" fill="#000" opacity="0.3" filter="url(#ndark)" clip-path="url(#clipF)"/>
<rect x="0" y="0" width="80" height="121" fill="rgb(210,160,30)" opacity="0.45" filter="url(#nlight)" clip-path="url(#clipF)"/>
<rect x="0" y="0" width="80" height="121" fill="#000" opacity="0.22" filter="url(#nfine)" clip-path="url(#clipF)"/>
<rect x="0" y="0" width="80" height="121" fill="rgb(80,229,32)" opacity="0.35" filter="url(#nmid)" clip-path="url(#clipF)"/>
<ellipse cx="43.9" cy="50.8" rx="27" ry="31" fill="rgb(20,58,7)"/>
</g>
<ellipse cx="41.5" cy="55.5" rx="17" ry="15" fill="#000" opacity="0.85" filter="url(#soft3)"/>
<ellipse cx="41.5" cy="57" rx="10" ry="9" fill="#000" filter="url(#soft2)"/>
<ellipse cx="58.5" cy="87" rx="5" ry="5" fill="rgb(220,190,30)" opacity="0.8" filter="url(#soft2)"/>
<rect x="49.3" y="78.3" width="19.5" height="17" fill="none" stroke="#e8e8d8" stroke-width="0.8"/>
<text x="0.6" y="118.6" font-family='"Liberation Serif", serif' font-size="20.5" fill="#fff">30s</text>
</g>
<rect x="123.2" y="320.2" width="1.1" height="243.8" fill="#d0c8d8"/>
<rect x="205.0" y="320.2" width="1.1" height="243.8" fill="#d0c8d8"/>
<rect x="43.4" y="441.4" width="243.4" height="1.2" fill="#d0c8d8"/>
<text x="18.6" y="344.6" font-family='"Liberation Serif", serif' font-weight="bold" font-size="31" fill="#000">F</text>
<g fill="#ff0000">
<circle cx="350.7" cy="338.8" r="2.7"/>
<circle cx="351.4" cy="337.5" r="2.7"/>
<circle cx="352.2" cy="340.7" r="2.7"/>
<circle cx="352.9" cy="342.0" r="2.7"/>
<circle cx="353.6" cy="344.9" r="2.7"/>
<circle cx="354.3" cy="343.7" r="2.7"/>
<circle cx="355.1" cy="340.7" r="2.7"/>
<circle cx="355.8" cy="343.8" r="2.7"/>
<circle cx="356.5" cy="342.9" r="2.7"/>
<circle cx="357.2" cy="346.3" r="2.7"/>
<circle cx="358.0" cy="346.8" r="2.7"/>
<circle cx="358.7" cy="348.4" r="2.7"/>
<circle cx="359.4" cy="354.9" r="2.7"/>
<circle cx="360.2" cy="348.3" r="2.7"/>
<circle cx="360.9" cy="350.3" r="2.7"/>
<circle cx="361.6" cy="351.3" r="2.7"/>
<circle cx="362.3" cy="358.8" r="2.7"/>
<circle cx="363.1" cy="359.9" r="2.7"/>
<circle cx="363.8" cy="358.3" r="2.7"/>
<circle cx="364.5" cy="357.9" r="2.7"/>
<circle cx="365.2" cy="356.5" r="2.7"/>
<circle cx="366.0" cy="358.5" r="2.7"/>
<circle cx="366.7" cy="357.7" r="2.7"/>
<circle cx="367.4" cy="362.1" r="2.7"/>
<circle cx="368.2" cy="360.2" r="2.7"/>
<circle cx="368.9" cy="360.8" r="2.7"/>
<circle cx="369.6" cy="364.9" r="2.7"/>
<circle cx="370.3" cy="358.6" r="2.7"/>
<circle cx="371.1" cy="363.0" r="2.7"/>
<circle cx="371.8" cy="362.0" r="2.7"/>
<circle cx="372.5" cy="368.3" r="2.7"/>
<circle cx="373.3" cy="369.6" r="2.7"/>
<circle cx="374.0" cy="369.2" r="2.7"/>
<circle cx="374.7" cy="369.4" r="2.7"/>
<circle cx="375.4" cy="368.0" r="2.7"/>
<circle cx="376.2" cy="370.0" r="2.7"/>
<circle cx="376.9" cy="373.0" r="2.7"/>
<circle cx="377.6" cy="375.4" r="2.7"/>
<circle cx="378.3" cy="374.9" r="2.7"/>
<circle cx="379.1" cy="370.5" r="2.7"/>
<circle cx="379.8" cy="377.4" r="2.7"/>
<circle cx="380.5" cy="373.3" r="2.7"/>
<circle cx="381.3" cy="373.6" r="2.7"/>
<circle cx="382.0" cy="380.2" r="2.7"/>
<circle cx="382.7" cy="376.4" r="2.7"/>
<circle cx="383.4" cy="373.4" r="2.7"/>
<circle cx="384.2" cy="384.2" r="2.7"/>
<circle cx="384.9" cy="379.9" r="2.7"/>
<circle cx="385.6" cy="380.0" r="2.7"/>
<circle cx="386.3" cy="383.0" r="2.7"/>
<circle cx="387.1" cy="379.8" r="2.7"/>
<circle cx="387.8" cy="382.3" r="2.7"/>
<circle cx="388.5" cy="387.3" r="2.7"/>
<circle cx="389.3" cy="381.2" r="2.7"/>
<circle cx="390.0" cy="382.4" r="2.7"/>
<circle cx="390.7" cy="382.3" r="2.7"/>
<circle cx="391.4" cy="381.6" r="2.7"/>
<circle cx="392.2" cy="385.6" r="2.7"/>
<circle cx="392.9" cy="387.1" r="2.7"/>
<circle cx="393.6" cy="392.2" r="2.7"/>
<circle cx="394.4" cy="388.9" r="2.7"/>
<circle cx="395.1" cy="393.4" r="2.7"/>
<circle cx="395.8" cy="393.6" r="2.7"/>
<circle cx="396.5" cy="396.8" r="2.7"/>
<circle cx="397.3" cy="396.6" r="2.7"/>
<circle cx="398.0" cy="396.1" r="2.7"/>
<circle cx="398.7" cy="391.3" r="2.7"/>
<circle cx="399.4" cy="402.0" r="2.7"/>
<circle cx="400.2" cy="401.0" r="2.7"/>
<circle cx="400.9" cy="396.6" r="2.7"/>
<circle cx="401.6" cy="393.7" r="2.7"/>
<circle cx="402.4" cy="397.0" r="2.7"/>
<circle cx="403.1" cy="405.2" r="2.7"/>
<circle cx="403.8" cy="407.8" r="2.7"/>
<circle cx="404.5" cy="399.8" r="2.7"/>
<circle cx="405.3" cy="403.8" r="2.7"/>
<circle cx="406.0" cy="405.6" r="2.7"/>
<circle cx="406.7" cy="400.0" r="2.7"/>
<circle cx="407.4" cy="400.3" r="2.7"/>
<circle cx="408.2" cy="403.8" r="2.7"/>
<circle cx="408.9" cy="404.2" r="2.7"/>
<circle cx="409.6" cy="404.3" r="2.7"/>
<circle cx="410.4" cy="401.5" r="2.7"/>
<circle cx="411.1" cy="405.1" r="2.7"/>
<circle cx="411.8" cy="406.1" r="2.7"/>
<circle cx="412.5" cy="406.6" r="2.7"/>
<circle cx="413.3" cy="413.7" r="2.7"/>
<circle cx="414.0" cy="405.7" r="2.7"/>
<circle cx="414.7" cy="407.4" r="2.7"/>
<circle cx="415.4" cy="409.3" r="2.7"/>
<circle cx="416.2" cy="417.5" r="2.7"/>
<circle cx="416.9" cy="414.1" r="2.7"/>
<circle cx="417.6" cy="410.3" r="2.7"/>
<circle cx="418.4" cy="418.9" r="2.7"/>
<circle cx="419.1" cy="414.6" r="2.7"/>
<circle cx="419.8" cy="411.6" r="2.7"/>
<circle cx="420.5" cy="419.3" r="2.7"/>
<circle cx="421.3" cy="411.1" r="2.7"/>
<circle cx="422.0" cy="414.9" r="2.7"/>
<circle cx="422.7" cy="417.6" r="2.7"/>
<circle cx="423.4" cy="416.8" r="2.7"/>
<circle cx="424.2" cy="416.4" r="2.7"/>
<circle cx="424.9" cy="418.6" r="2.7"/>
<circle cx="425.6" cy="416.1" r="2.7"/>
<circle cx="426.4" cy="422.1" r="2.7"/>
<circle cx="427.1" cy="422.0" r="2.7"/>
<circle cx="427.8" cy="418.2" r="2.7"/>
<circle cx="428.5" cy="421.8" r="2.7"/>
<circle cx="429.3" cy="425.2" r="2.7"/>
<circle cx="430.0" cy="420.2" r="2.7"/>
<circle cx="430.7" cy="419.2" r="2.7"/>
<circle cx="431.5" cy="425.6" r="2.7"/>
<circle cx="432.2" cy="429.0" r="2.7"/>
<circle cx="432.9" cy="425.8" r="2.7"/>
<circle cx="433.6" cy="426.4" r="2.7"/>
<circle cx="434.4" cy="427.4" r="2.7"/>
<circle cx="435.1" cy="422.8" r="2.7"/>
<circle cx="435.8" cy="430.7" r="2.7"/>
<circle cx="436.5" cy="424.4" r="2.7"/>
<circle cx="437.3" cy="432.5" r="2.7"/>
<circle cx="438.0" cy="431.6" r="2.7"/>
<circle cx="438.7" cy="427.9" r="2.7"/>
<circle cx="439.5" cy="426.9" r="2.7"/>
<circle cx="440.2" cy="428.3" r="2.7"/>
<circle cx="440.9" cy="430.4" r="2.7"/>
<circle cx="441.6" cy="431.5" r="2.7"/>
<circle cx="442.4" cy="432.0" r="2.7"/>
<circle cx="443.1" cy="431.3" r="2.7"/>
<circle cx="443.8" cy="434.1" r="2.7"/>
<circle cx="444.5" cy="433.2" r="2.7"/>
<circle cx="445.3" cy="432.9" r="2.7"/>
<circle cx="446.0" cy="435.1" r="2.7"/>
<circle cx="446.7" cy="433.3" r="2.7"/>
<circle cx="447.5" cy="434.4" r="2.7"/>
<circle cx="448.2" cy="430.6" r="2.7"/>
<circle cx="448.9" cy="436.2" r="2.7"/>
<circle cx="449.6" cy="438.9" r="2.7"/>
<circle cx="450.4" cy="439.3" r="2.7"/>
<circle cx="451.1" cy="438.7" r="2.7"/>
<circle cx="451.8" cy="436.3" r="2.7"/>
<circle cx="452.6" cy="440.6" r="2.7"/>
<circle cx="453.3" cy="439.0" r="2.7"/>
<circle cx="454.0" cy="435.1" r="2.7"/>
<circle cx="454.7" cy="448.8" r="2.7"/>
<circle cx="455.5" cy="445.0" r="2.7"/>
<circle cx="456.2" cy="441.3" r="2.7"/>
<circle cx="456.9" cy="441.3" r="2.7"/>
<circle cx="457.6" cy="442.3" r="2.7"/>
<circle cx="458.4" cy="444.8" r="2.7"/>
<circle cx="459.1" cy="442.0" r="2.7"/>
<circle cx="459.8" cy="443.6" r="2.7"/>
<circle cx="460.6" cy="446.5" r="2.7"/>
<circle cx="461.3" cy="438.0" r="2.7"/>
<circle cx="462.0" cy="444.7" r="2.7"/>
<circle cx="462.7" cy="447.9" r="2.7"/>
<circle cx="463.5" cy="447.0" r="2.7"/>
<circle cx="464.2" cy="447.9" r="2.7"/>
<circle cx="464.9" cy="444.6" r="2.7"/>
<circle cx="465.6" cy="453.1" r="2.7"/>
<circle cx="466.4" cy="446.8" r="2.7"/>
<circle cx="467.1" cy="442.7" r="2.7"/>
<circle cx="467.8" cy="449.7" r="2.7"/>
<circle cx="468.6" cy="446.8" r="2.7"/>
<circle cx="469.3" cy="444.2" r="2.7"/>
<circle cx="470.0" cy="444.9" r="2.7"/>
<circle cx="470.7" cy="443.4" r="2.7"/>
<circle cx="471.5" cy="453.5" r="2.7"/>
<circle cx="472.2" cy="449.9" r="2.7"/>
<circle cx="472.9" cy="450.3" r="2.7"/>
<circle cx="473.6" cy="447.8" r="2.7"/>
<circle cx="474.4" cy="446.8" r="2.7"/>
<circle cx="475.1" cy="458.6" r="2.7"/>
<circle cx="475.8" cy="447.6" r="2.7"/>
<circle cx="476.6" cy="455.7" r="2.7"/>
<circle cx="477.3" cy="449.7" r="2.7"/>
<circle cx="478.0" cy="456.6" r="2.7"/>
<circle cx="478.7" cy="452.0" r="2.7"/>
<circle cx="479.5" cy="449.4" r="2.7"/>
<circle cx="480.2" cy="453.8" r="2.7"/>
<circle cx="480.9" cy="453.2" r="2.7"/>
<circle cx="481.6" cy="451.8" r="2.7"/>
<circle cx="482.4" cy="454.1" r="2.7"/>
<circle cx="483.1" cy="455.2" r="2.7"/>
<circle cx="483.8" cy="450.7" r="2.7"/>
<circle cx="484.6" cy="452.6" r="2.7"/>
<circle cx="485.3" cy="457.0" r="2.7"/>
<circle cx="486.0" cy="448.2" r="2.7"/>
<circle cx="486.7" cy="460.4" r="2.7"/>
<circle cx="487.5" cy="454.5" r="2.7"/>
<circle cx="488.2" cy="458.5" r="2.7"/>
<circle cx="488.9" cy="457.6" r="2.7"/>
<circle cx="489.7" cy="456.3" r="2.7"/>
<circle cx="490.4" cy="461.3" r="2.7"/>
<circle cx="491.1" cy="460.4" r="2.7"/>
<circle cx="491.8" cy="467.3" r="2.7"/>
<circle cx="492.6" cy="467.7" r="2.7"/>
<circle cx="493.3" cy="461.6" r="2.7"/>
<circle cx="494.0" cy="466.7" r="2.7"/>
<circle cx="494.7" cy="467.3" r="2.7"/>
<circle cx="495.5" cy="469.0" r="2.7"/>
<circle cx="496.2" cy="461.1" r="2.7"/>
<circle cx="496.9" cy="463.0" r="2.7"/>
<circle cx="497.7" cy="461.2" r="2.7"/>
<circle cx="498.4" cy="468.8" r="2.7"/>
<circle cx="499.1" cy="466.3" r="2.7"/>
<circle cx="499.8" cy="470.1" r="2.7"/>
<circle cx="500.6" cy="464.7" r="2.7"/>
<circle cx="501.3" cy="462.6" r="2.7"/>
<circle cx="502.0" cy="470.4" r="2.7"/>
<circle cx="502.7" cy="461.2" r="2.7"/>
<circle cx="503.5" cy="463.3" r="2.7"/>
<circle cx="504.2" cy="467.2" r="2.7"/>
<circle cx="504.9" cy="472.9" r="2.7"/>
<circle cx="505.7" cy="463.1" r="2.7"/>
<circle cx="506.4" cy="467.9" r="2.7"/>
<circle cx="507.1" cy="469.8" r="2.7"/>
<circle cx="507.8" cy="467.1" r="2.7"/>
<circle cx="508.6" cy="467.4" r="2.7"/>
<circle cx="509.3" cy="464.4" r="2.7"/>
<circle cx="510.0" cy="472.4" r="2.7"/>
<circle cx="510.8" cy="466.2" r="2.7"/>
<circle cx="511.5" cy="465.4" r="2.7"/>
<circle cx="512.2" cy="465.9" r="2.7"/>
<circle cx="512.9" cy="471.1" r="2.7"/>
<circle cx="513.7" cy="473.1" r="2.7"/>
<circle cx="514.4" cy="468.1" r="2.7"/>
<circle cx="515.1" cy="471.2" r="2.7"/>
<circle cx="515.8" cy="471.4" r="2.7"/>
<circle cx="516.6" cy="467.8" r="2.7"/>
<circle cx="517.3" cy="473.2" r="2.7"/>
<circle cx="518.0" cy="479.7" r="2.7"/>
<circle cx="518.8" cy="474.2" r="2.7"/>
<circle cx="519.5" cy="479.0" r="2.7"/>
<circle cx="520.2" cy="471.2" r="2.7"/>
<circle cx="520.9" cy="473.0" r="2.7"/>
<circle cx="521.7" cy="476.1" r="2.7"/>
<circle cx="522.4" cy="474.6" r="2.7"/>
<circle cx="523.1" cy="472.3" r="2.7"/>
<circle cx="523.8" cy="474.9" r="2.7"/>
<circle cx="524.6" cy="471.4" r="2.7"/>
<circle cx="525.3" cy="478.1" r="2.7"/>
<circle cx="526.0" cy="475.0" r="2.7"/>
<circle cx="526.8" cy="473.9" r="2.7"/>
<circle cx="527.5" cy="473.9" r="2.7"/>
<circle cx="528.2" cy="481.0" r="2.7"/>
<circle cx="528.9" cy="476.6" r="2.7"/>
<circle cx="529.7" cy="485.2" r="2.7"/>
<circle cx="530.4" cy="483.1" r="2.7"/>
<circle cx="531.1" cy="486.1" r="2.7"/>
<circle cx="531.8" cy="477.8" r="2.7"/>
<circle cx="532.6" cy="485.5" r="2.7"/>
<circle cx="533.3" cy="482.7" r="2.7"/>
<circle cx="534.0" cy="484.0" r="2.7"/>
<circle cx="534.8" cy="484.4" r="2.7"/>
<circle cx="535.5" cy="486.9" r="2.7"/>
<circle cx="536.2" cy="485.2" r="2.7"/>
<circle cx="536.9" cy="481.4" r="2.7"/>
<circle cx="537.7" cy="487.5" r="2.7"/>
<circle cx="538.4" cy="486.8" r="2.7"/>
<circle cx="539.1" cy="486.2" r="2.7"/>
<circle cx="539.9" cy="490.6" r="2.7"/>
<circle cx="540.6" cy="494.7" r="2.7"/>
<circle cx="541.3" cy="493.3" r="2.7"/>
<circle cx="542.0" cy="489.2" r="2.7"/>
<circle cx="542.8" cy="498.3" r="2.7"/>
<circle cx="543.5" cy="495.4" r="2.7"/>
<circle cx="544.2" cy="490.8" r="2.7"/>
<circle cx="544.9" cy="491.7" r="2.7"/>
<circle cx="545.7" cy="494.3" r="2.7"/>
<circle cx="546.4" cy="492.1" r="2.7"/>
<circle cx="547.1" cy="494.3" r="2.7"/>
<circle cx="547.9" cy="498.6" r="2.7"/>
<circle cx="548.6" cy="500.0" r="2.7"/>
<circle cx="549.3" cy="497.5" r="2.7"/>
<circle cx="550.0" cy="493.0" r="2.7"/>
<circle cx="550.8" cy="497.7" r="2.7"/>
<circle cx="551.5" cy="499.0" r="2.7"/>
<circle cx="552.2" cy="498.8" r="2.7"/>
<circle cx="552.9" cy="501.4" r="2.7"/>
<circle cx="553.7" cy="497.3" r="2.7"/>
<circle cx="554.4" cy="500.8" r="2.7"/>
<circle cx="555.1" cy="496.4" r="2.7"/>
<circle cx="555.9" cy="504.8" r="2.7"/>
<circle cx="556.6" cy="496.9" r="2.7"/>
<circle cx="557.3" cy="500.1" r="2.7"/>
<circle cx="558.0" cy="504.3" r="2.7"/>
<circle cx="558.8" cy="496.4" r="2.7"/>
<circle cx="559.5" cy="499.7" r="2.7"/>
<circle cx="560.2" cy="505.8" r="2.7"/>
<circle cx="560.9" cy="501.9" r="2.7"/>
<circle cx="561.7" cy="498.6" r="2.7"/>
<circle cx="562.4" cy="501.1" r="2.7"/>
<circle cx="563.1" cy="497.6" r="2.7"/>
<circle cx="563.9" cy="497.9" r="2.7"/>
<circle cx="564.6" cy="498.4" r="2.7"/>
<circle cx="565.3" cy="499.6" r="2.7"/>
<circle cx="566.0" cy="496.8" r="2.7"/>
</g>
<path d="M350.7,338.0 L351.4,339.0 L352.2,340.0 L352.9,341.1 L353.6,342.1 L354.3,343.1 L355.1,344.1 L355.8,345.0 L356.5,346.0 L357.2,347.0 L358.0,348.0 L358.7,349.0 L359.4,349.9 L360.2,350.9 L360.9,351.8 L361.6,352.8 L362.3,353.7 L363.1,354.7 L363.8,355.6 L364.5,356.5 L365.2,357.5 L366.0,358.4 L366.7,359.3 L367.4,360.2 L368.2,361.1 L368.9,362.0 L369.6,362.9 L370.3,363.8 L371.1,364.7 L371.8,365.6 L372.5,366.5 L373.3,367.3 L374.0,368.2 L374.7,369.1 L375.4,369.9 L376.2,370.8 L376.9,371.6 L377.6,372.5 L378.3,373.3 L379.1,374.2 L379.8,375.0 L380.5,375.8 L381.3,376.6 L382.0,377.5 L382.7,378.3 L383.4,379.1 L384.2,379.9 L384.9,380.7 L385.6,381.5 L386.3,382.3 L387.1,383.1 L387.8,383.9 L388.5,384.6 L389.3,385.4 L390.0,386.2 L390.7,387.0 L391.4,387.7 L392.2,388.5 L392.9,389.3 L393.6,390.0 L394.4,390.8 L395.1,391.5 L395.8,392.2 L396.5,393.0 L397.3,393.7 L398.0,394.5 L398.7,395.2 L399.4,395.9 L400.2,396.6 L400.9,397.3 L401.6,398.0 L402.4,398.8 L403.1,399.5 L403.8,400.2 L404.5,400.9 L405.3,401.5 L406.0,402.2 L406.7,402.9 L407.4,403.6 L408.2,404.3 L408.9,405.0 L409.6,405.6 L410.4,406.3 L411.1,407.0 L411.8,407.6 L412.5,408.3 L413.3,408.9 L414.0,409.6 L414.7,410.2 L415.4,410.9 L416.2,411.5 L416.9,412.2 L417.6,412.8 L418.4,413.4 L419.1,414.1 L419.8,414.7 L420.5,415.3 L421.3,415.9 L422.0,416.5 L422.7,417.1 L423.4,417.7 L424.2,418.4 L424.9,419.0 L425.6,419.6 L426.4,420.1 L427.1,420.7 L427.8,421.3 L428.5,421.9 L429.3,422.5 L430.0,423.1 L430.7,423.7 L431.5,424.2 L432.2,424.8 L432.9,425.4 L433.6,425.9 L434.4,426.5 L435.1,427.1 L435.8,427.6 L436.5,428.2 L437.3,428.7 L438.0,429.3 L438.7,429.8 L439.5,430.3 L440.2,430.9 L440.9,431.4 L441.6,432.0 L442.4,432.5 L443.1,433.0 L443.8,433.5 L444.5,434.1 L445.3,434.6 L446.0,435.1 L446.7,435.6 L447.5,436.1 L448.2,436.6 L448.9,437.1 L449.6,437.6 L450.4,438.1 L451.1,438.6 L451.8,439.1 L452.6,439.6 L453.3,440.1 L454.0,440.6 L454.7,441.1 L455.5,441.6 L456.2,442.1 L456.9,442.5 L457.6,443.0 L458.4,443.5 L459.1,443.9 L459.8,444.4 L460.6,444.9 L461.3,445.3 L462.0,445.8 L462.7,446.3 L463.5,446.7 L464.2,447.2 L464.9,447.6 L465.6,448.1 L466.4,448.5 L467.1,449.0 L467.8,449.4 L468.6,449.8 L469.3,450.3 L470.0,450.7 L470.7,451.1 L471.5,451.6 L472.2,452.0 L472.9,452.4 L473.6,452.8 L474.4,453.3 L475.1,453.7 L475.8,454.1 L476.6,454.5 L477.3,454.9 L478.0,455.3 L478.7,455.7 L479.5,456.2 L480.2,456.6 L480.9,457.0 L481.6,457.4 L482.4,457.8 L483.1,458.2 L483.8,458.5 L484.6,458.9 L485.3,459.3 L486.0,459.7 L486.7,460.1 L487.5,460.5 L488.2,460.9 L488.9,461.2 L489.7,461.6 L490.4,462.0 L491.1,462.4 L491.8,462.7 L492.6,463.1 L493.3,463.5 L494.0,463.8 L494.7,464.2 L495.5,464.6 L496.2,464.9 L496.9,465.3 L497.7,465.6 L498.4,466.0 L499.1,466.3 L499.8,466.7 L500.6,467.0 L501.3,467.4 L502.0,467.7 L502.7,468.1 L503.5,468.4 L504.2,468.8 L504.9,469.1 L505.7,469.4 L506.4,469.8 L507.1,470.1 L507.8,470.4 L508.6,470.8 L509.3,471.1 L510.0,471.4 L510.8,471.7 L511.5,472.1 L512.2,472.4 L512.9,472.7 L513.7,473.0 L514.4,473.3 L515.1,473.6 L515.8,474.0 L516.6,474.3 L517.3,474.6 L518.0,474.9 L518.8,475.2 L519.5,475.5 L520.2,475.8 L520.9,476.1 L521.7,476.4 L522.4,476.7 L523.1,477.0 L523.8,477.3 L524.6,477.6 L525.3,477.9 L526.0,478.2 L526.8,478.4 L527.5,478.7 L528.2,479.0 L528.9,479.3 L529.7,479.6 L530.4,479.9 L531.1,480.1 L531.8,480.4 L532.6,480.7 L533.3,481.0 L534.0,481.2 L534.8,481.5 L535.5,481.8 L536.2,482.1 L536.9,482.3 L537.7,482.6 L538.4,482.9 L539.1,483.1 L539.9,483.4 L540.6,483.6 L541.3,483.9 L542.0,484.2 L542.8,484.4 L543.5,484.7 L544.2,484.9 L544.9,485.2 L545.7,485.4 L546.4,485.7 L547.1,485.9 L547.9,486.2 L548.6,486.4 L549.3,486.7 L550.0,486.9 L550.8,487.2 L551.5,487.4 L552.2,487.6 L552.9,487.9 L553.7,488.1 L554.4,488.4 L555.1,488.6 L555.9,488.8 L556.6,489.1 L557.3,489.3 L558.0,489.5 L558.8,489.7 L559.5,490.0 L560.2,490.2 L560.9,490.4 L561.7,490.7 L562.4,490.9 L563.1,491.1 L563.9,491.3 L564.6,491.5 L565.3,491.8" fill="none" stroke="#000" stroke-width="1.3"/>
<rect x="350.7" y="329.2" width="226.1" height="186.3" fill="none" stroke="#000" stroke-width="1.3"/>
<line x1="350.7" y1="515.5" x2="350.7" y2="518.5" stroke="#000" stroke-width="1.2"/>
<text x="350.7" y="535.0" font-family='"Liberation Sans", sans-serif' font-size="12.0" font-weight="normal" text-anchor="middle" fill="#000"  stroke="#000" stroke-width="0.35">0</text>
<line x1="379.8" y1="515.5" x2="379.8" y2="518.5" stroke="#000" stroke-width="1.2"/>
<text x="379.8" y="535.0" font-family='"Liberation Sans", sans-serif' font-size="12.0" font-weight="normal" text-anchor="middle" fill="#000"  stroke="#000" stroke-width="0.35">20</text>
<line x1="408.9" y1="515.5" x2="408.9" y2="518.5" stroke="#000" stroke-width="1.2"/>
<text x="408.9" y="535.0" font-family='"Liberation Sans", sans-serif' font-size="12.0" font-weight="normal" text-anchor="middle" fill="#000"  stroke="#000" stroke-width="0.35">40</text>
<line x1="438.0" y1="515.5" x2="438.0" y2="518.5" stroke="#000" stroke-width="1.2"/>
<text x="438.0" y="535.0" font-family='"Liberation Sans", sans-serif' font-size="12.0" font-weight="normal" text-anchor="middle" fill="#000"  stroke="#000" stroke-width="0.35">60</text>
<line x1="467.1" y1="515.5" x2="467.1" y2="518.5" stroke="#000" stroke-width="1.2"/>
<text x="467.1" y="535.0" font-family='"Liberation Sans", sans-serif' font-size="12.0" font-weight="normal" text-anchor="middle" fill="#000"  stroke="#000" stroke-width="0.35">80</text>
<line x1="496.2" y1="515.5" x2="496.2" y2="518.5" stroke="#000" stroke-width="1.2"/>
<text x="496.2" y="535.0" font-family='"Liberation Sans", sans-serif' font-size="12.0" font-weight="normal" text-anchor="middle" fill="#000"  stroke="#000" stroke-width="0.35">100</text>
<line x1="525.3" y1="515.5" x2="525.3" y2="518.5" stroke="#000" stroke-width="1.2"/>
<text x="525.3" y="535.0" font-family='"Liberation Sans", sans-serif' font-size="12.0" font-weight="normal" text-anchor="middle" fill="#000"  stroke="#000" stroke-width="0.35">120</text>
<line x1="554.4" y1="515.5" x2="554.4" y2="518.5" stroke="#000" stroke-width="1.2"/>
<text x="554.4" y="535.0" font-family='"Liberation Sans", sans-serif' font-size="12.0" font-weight="normal" text-anchor="middle" fill="#000"  stroke="#000" stroke-width="0.35">140</text>
<line x1="347.7" y1="515.5" x2="350.7" y2="515.5" stroke="#000" stroke-width="1.2"/>
<text x="341.5" y="519.8" font-family='"Liberation Sans", sans-serif' font-size="12.0" font-weight="normal" text-anchor="end" fill="#000"  stroke="#000" stroke-width="0.35">0,0</text>
<line x1="347.7" y1="480.0" x2="350.7" y2="480.0" stroke="#000" stroke-width="1.2"/>
<text x="341.5" y="484.3" font-family='"Liberation Sans", sans-serif' font-size="12.0" font-weight="normal" text-anchor="end" fill="#000"  stroke="#000" stroke-width="0.35">0,2</text>
<line x1="347.7" y1="444.5" x2="350.7" y2="444.5" stroke="#000" stroke-width="1.2"/>
<text x="341.5" y="448.8" font-family='"Liberation Sans", sans-serif' font-size="12.0" font-weight="normal" text-anchor="end" fill="#000"  stroke="#000" stroke-width="0.35">0,4</text>
<line x1="347.7" y1="409.0" x2="350.7" y2="409.0" stroke="#000" stroke-width="1.2"/>
<text x="341.5" y="413.3" font-family='"Liberation Sans", sans-serif' font-size="12.0" font-weight="normal" text-anchor="end" fill="#000"  stroke="#000" stroke-width="0.35">0,6</text>
<line x1="347.7" y1="373.5" x2="350.7" y2="373.5" stroke="#000" stroke-width="1.2"/>
<text x="341.5" y="377.8" font-family='"Liberation Sans", sans-serif' font-size="12.0" font-weight="normal" text-anchor="end" fill="#000"  stroke="#000" stroke-width="0.35">0,8</text>
<line x1="347.7" y1="338.0" x2="350.7" y2="338.0" stroke="#000" stroke-width="1.2"/>
<text x="341.5" y="342.3" font-family='"Liberation Sans", sans-serif' font-size="12.0" font-weight="normal" text-anchor="end" fill="#000"  stroke="#000" stroke-width="0.35">1,0</text>
<text x="463.7" y="560.0" font-family='"Liberation Sans", sans-serif' font-size="13.6" font-weight="bold" text-anchor="middle" fill="#000"  textLength="69.5" lengthAdjust="spacingAndGlyphs">time (sec)</text>
<text transform="translate(315.3,421.3) rotate(-90)" font-family='"Liberation Sans", sans-serif' font-size="13" text-anchor="middle" textLength="137.5" lengthAdjust="spacingAndGlyphs">Normalized Intensity</text>
<text x="549.5" y="358.8" font-family='"Liberation Serif", serif' font-weight="bold" font-size="31" fill="#000">G</text>
<path d="M186.0,761.5 L182.0,760.0 L184.0,760.5 L183.5,751.0 L157.6,743.6 L154.6,737.5 L152.9,734.7 L151.0,728.8 L149.0,728.8 L135.3,725.7 L132.2,719.0 L121.6,709.3 L113.8,705.3 L104.6,707.1 L109.7,702.1 L101.4,702.0 L105.1,710.0 L99.0,698.5 L104.6,703.4 L112.4,710.1 L109.3,705.7 L117.0,702.7 L108.9,694.9 L108.0,698.7 L105.2,699.8 L106.5,705.8 L111.5,706.3 L100.3,710.0 L96.0,706.4 L96.0,692.0 L104.0,697.0 L112.0,687.0 L115.0,666.0 L108.0,675.6 L120.0,676.6 L131.0,674.4 L131.0,670.1 L131.0,668.7 L159.0,666.0 L160.0,655.4 L152.7,662.3 L149.4,664.8 L148.6,656.8 L151.3,652.9 L160.0,652.6 L159.6,655.9 L160.0,653.8 L160.0,655.8 L160.0,662.3 L155.7,656.8 L157.4,661.9 L160.0,659.3 L158.6,663.8 L155.8,664.6 L146.0,647.0 L158.0,657.6 L157.0,669.0 L131.0,688.0 L149.0,696.0 L145.0,699.0 L174.0,702.4 L166.5,685.0 L179.0,684.8 L179.0,686.2 L187.0,702.4 L194.8,709.3 L198.5,710.9 L197.1,712.6 L205.0,704.9 L195.6,716.0 L195.6,716.0 L199.7,700.6 L205.0,713.9 L201.3,714.4 L198.5,701.6 L195.1,703.3 L200.9,707.1 L197.8,714.8 L190.5,715.2 L197.9,706.9 L183.9,696.5 L187.9,701.3 L199.0,692.1 L196.2,699.3 L193.4,680.0 L197.8,704.8 L201.9,695.1 L195.4,697.9 L205.0,702.9 L200.8,713.6 L196.9,716.0 L190.4,705.9 L195.3,714.5 L198.0,711.2 L205.0,681.0 L218.0,676.0 L198.0,673.0 L206.0,659.0 L198.0,654.4 L198.4,652.4 L204.7,652.4 L209.8,654.8 L207.5,656.7 L209.8,662.3 L206.8,659.4 L200.4,668.5 L210.3,663.8 L207.1,654.3 L208.3,656.9 L219.1,658.7 L211.3,645.0 L217.2,650.7 L205.9,654.3 L198.6,675.0 L213.4,660.0 L213.4,623.8 L213.7,607.3 L219.3,600.0 L211.7,625.1 L225.9,612.7 L211.3,629.3 L219.7,617.7 L213.5,613.7 L205.8,611.2 L219.1,626.1 L233.8,626.4 L226.9,615.9 L222.5,605.1 L207.3,622.2 L221.5,634.9 L229.9,636.2 L220.0,635.1 L216.1,620.0 L203.7,605.7 L208.3,616.0 L207.8,638.1 L212.4,642.2 L223.1,628.1 L206.2,637.8 L204.8,650.8 L211.6,655.6 L219.2,621.7 L223.8,616.5 L215.8,616.0 L222.0,631.5 L227.8,611.1 L219.6,600.0 L217.9,617.7 L211.9,624.9 L215.4,638.8 L209.8,625.8 L206.6,648.3 L218.4,640.4 L219.6,638.1 L220.2,632.8 L216.6,616.7 L211.9,641.2 L217.7,638.0 L203.0,612.0 L231.5,598.7 L237.0,611.7 L232.0,616.0 L235.0,630.0 L233.7,668.0 L233.9,679.0 L238.4,680.1 L240.1,688.0 L234.1,684.8 L228.3,680.6 L238.7,679.0 L236.8,680.4 L232.9,687.0 L243.5,691.1 L240.9,688.3 L239.3,698.6 L236.2,688.9 L227.7,682.9 L221.2,696.6 L230.1,694.8 L244.2,690.3 L248.0,699.1 L233.3,685.9 L228.3,697.0 L241.8,687.2 L248.7,687.6 L242.3,686.5 L238.7,679.0 L231.3,679.0 L237.7,702.0 L257.0,697.6 L237.8,694.1 L231.2,711.0 L238.2,700.3 L245.5,703.4 L231.0,696.9 L232.0,697.1 L235.5,694.3 L238.1,690.6 L231.7,705.0 L237.0,705.7 L225.7,701.3 L236.5,689.5 L245.6,689.0 L246.3,690.7 L245.4,702.6 L240.1,713.1 L233.9,700.0 L241.0,690.4 L237.0,691.4" fill="none" stroke="#000" stroke-width="0.75"/>
<g fill="#000">
<circle cx="186.0" cy="761.5" r="1.8"/>
<circle cx="182.0" cy="760.0" r="1.8"/>
<circle cx="184.0" cy="760.5" r="1.8"/>
<circle cx="183.5" cy="751.0" r="1.8"/>
<circle cx="157.6" cy="743.6" r="1.8"/>
<circle cx="154.6" cy="737.5" r="1.8"/>
<circle cx="152.9" cy="734.7" r="1.8"/>
<circle cx="151.0" cy="728.8" r="1.8"/>
<circle cx="149.0" cy="728.8" r="1.8"/>
<circle cx="135.3" cy="725.7" r="1.8"/>
<circle cx="132.2" cy="719.0" r="1.8"/>
<circle cx="121.6" cy="709.3" r="1.8"/>
<circle cx="113.8" cy="705.3" r="1.8"/>
<circle cx="104.6" cy="707.1" r="1.8"/>
<circle cx="109.7" cy="702.1" r="1.8"/>
<circle cx="101.4" cy="702.0" r="1.8"/>
<circle cx="105.1" cy="710.0" r="1.8"/>
<circle cx="99.0" cy="698.5" r="1.8"/>
<circle cx="104.6" cy="703.4" r="1.8"/>
<circle cx="112.4" cy="710.1" r="1.8"/>
<circle cx="109.3" cy="705.7" r="1.8"/>
<circle cx="117.0" cy="702.7" r="1.8"/>
<circle cx="108.9" cy="694.9" r="1.8"/>
<circle cx="108.0" cy="698.7" r="1.8"/>
<circle cx="105.2" cy="699.8" r="1.8"/>
<circle cx="106.5" cy="705.8" r="1.8"/>
<circle cx="111.5" cy="706.3" r="1.8"/>
<circle cx="100.3" cy="710.0" r="1.8"/>
<circle cx="96.0" cy="706.4" r="1.8"/>
<circle cx="96.0" cy="692.0" r="1.8"/>
<circle cx="104.0" cy="697.0" r="1.8"/>
<circle cx="112.0" cy="687.0" r="1.8"/>
<circle cx="115.0" cy="666.0" r="1.8"/>
<circle cx="108.0" cy="675.6" r="1.8"/>
<circle cx="120.0" cy="676.6" r="1.8"/>
<circle cx="131.0" cy="674.4" r="1.8"/>
<circle cx="131.0" cy="670.1" r="1.8"/>
<circle cx="131.0" cy="668.7" r="1.8"/>
<circle cx="159.0" cy="666.0" r="1.8"/>
<circle cx="160.0" cy="655.4" r="1.8"/>
<circle cx="152.7" cy="662.3" r="1.8"/>
<circle cx="149.4" cy="664.8" r="1.8"/>
<circle cx="148.6" cy="656.8" r="1.8"/>
<circle cx="151.3" cy="652.9" r="1.8"/>
<circle cx="160.0" cy="652.6" r="1.8"/>
<circle cx="159.6" cy="655.9" r="1.8"/>
<circle cx="160.0" cy="653.8" r="1.8"/>
<circle cx="160.0" cy="655.8" r="1.8"/>
<circle cx="160.0" cy="662.3" r="1.8"/>
<circle cx="155.7" cy="656.8" r="1.8"/>
<circle cx="157.4" cy="661.9" r="1.8"/>
<circle cx="160.0" cy="659.3" r="1.8"/>
<circle cx="158.6" cy="663.8" r="1.8"/>
<circle cx="155.8" cy="664.6" r="1.8"/>
<circle cx="146.0" cy="647.0" r="1.8"/>
<circle cx="158.0" cy="657.6" r="1.8"/>
<circle cx="157.0" cy="669.0" r="1.8"/>
<circle cx="131.0" cy="688.0" r="1.8"/>
<circle cx="149.0" cy="696.0" r="1.8"/>
<circle cx="145.0" cy="699.0" r="1.8"/>
<circle cx="174.0" cy="702.4" r="1.8"/>
<circle cx="166.5" cy="685.0" r="1.8"/>
<circle cx="179.0" cy="684.8" r="1.8"/>
<circle cx="179.0" cy="686.2" r="1.8"/>
<circle cx="187.0" cy="702.4" r="1.8"/>
<circle cx="194.8" cy="709.3" r="1.8"/>
<circle cx="198.5" cy="710.9" r="1.8"/>
<circle cx="197.1" cy="712.6" r="1.8"/>
<circle cx="205.0" cy="704.9" r="1.8"/>
<circle cx="195.6" cy="716.0" r="1.8"/>
<circle cx="195.6" cy="716.0" r="1.8"/>
<circle cx="199.7" cy="700.6" r="1.8"/>
<circle cx="205.0" cy="713.9" r="1.8"/>
<circle cx="201.3" cy="714.4" r="1.8"/>
<circle cx="198.5" cy="701.6" r="1.8"/>
<circle cx="195.1" cy="703.3" r="1.8"/>
<circle cx="200.9" cy="707.1" r="1.8"/>
<circle cx="197.8" cy="714.8" r="1.8"/>
<circle cx="190.5" cy="715.2" r="1.8"/>
<circle cx="197.9" cy="706.9" r="1.8"/>
<circle cx="183.9" cy="696.5" r="1.8"/>
<circle cx="187.9" cy="701.3" r="1.8"/>
<circle cx="199.0" cy="692.1" r="1.8"/>
<circle cx="196.2" cy="699.3" r="1.8"/>
<circle cx="193.4" cy="680.0" r="1.8"/>
<circle cx="197.8" cy="704.8" r="1.8"/>
<circle cx="201.9" cy="695.1" r="1.8"/>
<circle cx="195.4" cy="697.9" r="1.8"/>
<circle cx="205.0" cy="702.9" r="1.8"/>
<circle cx="200.8" cy="713.6" r="1.8"/>
<circle cx="196.9" cy="716.0" r="1.8"/>
<circle cx="190.4" cy="705.9" r="1.8"/>
<circle cx="195.3" cy="714.5" r="1.8"/>
<circle cx="198.0" cy="711.2" r="1.8"/>
<circle cx="205.0" cy="681.0" r="1.8"/>
<circle cx="218.0" cy="676.0" r="1.8"/>
<circle cx="198.0" cy="673.0" r="1.8"/>
<circle cx="206.0" cy="659.0" r="1.8"/>
<circle cx="198.0" cy="654.4" r="1.8"/>
<circle cx="198.4" cy="652.4" r="1.8"/>
<circle cx="204.7" cy="652.4" r="1.8"/>
<circle cx="209.8" cy="654.8" r="1.8"/>
<circle cx="207.5" cy="656.7" r="1.8"/>
<circle cx="209.8" cy="662.3" r="1.8"/>
<circle cx="206.8" cy="659.4" r="1.8"/>
<circle cx="200.4" cy="668.5" r="1.8"/>
<circle cx="210.3" cy="663.8" r="1.8"/>
<circle cx="207.1" cy="654.3" r="1.8"/>
<circle cx="208.3" cy="656.9" r="1.8"/>
<circle cx="219.1" cy="658.7" r="1.8"/>
<circle cx="211.3" cy="645.0" r="1.8"/>
<circle cx="217.2" cy="650.7" r="1.8"/>
<circle cx="205.9" cy="654.3" r="1.8"/>
<circle cx="198.6" cy="675.0" r="1.8"/>
<circle cx="213.4" cy="660.0" r="1.8"/>
<circle cx="213.4" cy="623.8" r="1.8"/>
<circle cx="213.7" cy="607.3" r="1.8"/>
<circle cx="219.3" cy="600.0" r="1.8"/>
<circle cx="211.7" cy="625.1" r="1.8"/>
<circle cx="225.9" cy="612.7" r="1.8"/>
<circle cx="211.3" cy="629.3" r="1.8"/>
<circle cx="219.7" cy="617.7" r="1.8"/>
<circle cx="213.5" cy="613.7" r="1.8"/>
<circle cx="205.8" cy="611.2" r="1.8"/>
<circle cx="219.1" cy="626.1" r="1.8"/>
<circle cx="233.8" cy="626.4" r="1.8"/>
<circle cx="226.9" cy="615.9" r="1.8"/>
<circle cx="222.5" cy="605.1" r="1.8"/>
<circle cx="207.3" cy="622.2" r="1.8"/>
<circle cx="221.5" cy="634.9" r="1.8"/>
<circle cx="229.9" cy="636.2" r="1.8"/>
<circle cx="220.0" cy="635.1" r="1.8"/>
<circle cx="216.1" cy="620.0" r="1.8"/>
<circle cx="203.7" cy="605.7" r="1.8"/>
<circle cx="208.3" cy="616.0" r="1.8"/>
<circle cx="207.8" cy="638.1" r="1.8"/>
<circle cx="212.4" cy="642.2" r="1.8"/>
<circle cx="223.1" cy="628.1" r="1.8"/>
<circle cx="206.2" cy="637.8" r="1.8"/>
<circle cx="204.8" cy="650.8" r="1.8"/>
<circle cx="211.6" cy="655.6" r="1.8"/>
<circle cx="219.2" cy="621.7" r="1.8"/>
<circle cx="223.8" cy="616.5" r="1.8"/>
<circle cx="215.8" cy="616.0" r="1.8"/>
<circle cx="222.0" cy="631.5" r="1.8"/>
<circle cx="227.8" cy="611.1" r="1.8"/>
<circle cx="219.6" cy="600.0" r="1.8"/>
<circle cx="217.9" cy="617.7" r="1.8"/>
<circle cx="211.9" cy="624.9" r="1.8"/>
<circle cx="215.4" cy="638.8" r="1.8"/>
<circle cx="209.8" cy="625.8" r="1.8"/>
<circle cx="206.6" cy="648.3" r="1.8"/>
<circle cx="218.4" cy="640.4" r="1.8"/>
<circle cx="219.6" cy="638.1" r="1.8"/>
<circle cx="220.2" cy="632.8" r="1.8"/>
<circle cx="216.6" cy="616.7" r="1.8"/>
<circle cx="211.9" cy="641.2" r="1.8"/>
<circle cx="217.7" cy="638.0" r="1.8"/>
<circle cx="203.0" cy="612.0" r="1.8"/>
<circle cx="231.5" cy="598.7" r="1.8"/>
<circle cx="237.0" cy="611.7" r="1.8"/>
<circle cx="232.0" cy="616.0" r="1.8"/>
<circle cx="235.0" cy="630.0" r="1.8"/>
<circle cx="233.7" cy="668.0" r="1.8"/>
<circle cx="233.9" cy="679.0" r="1.8"/>
<circle cx="238.4" cy="680.1" r="1.8"/>
<circle cx="240.1" cy="688.0" r="1.8"/>
<circle cx="234.1" cy="684.8" r="1.8"/>
<circle cx="228.3" cy="680.6" r="1.8"/>
<circle cx="238.7" cy="679.0" r="1.8"/>
<circle cx="236.8" cy="680.4" r="1.8"/>
<circle cx="232.9" cy="687.0" r="1.8"/>
<circle cx="243.5" cy="691.1" r="1.8"/>
<circle cx="240.9" cy="688.3" r="1.8"/>
<circle cx="239.3" cy="698.6" r="1.8"/>
<circle cx="236.2" cy="688.9" r="1.8"/>
<circle cx="227.7" cy="682.9" r="1.8"/>
<circle cx="221.2" cy="696.6" r="1.8"/>
<circle cx="230.1" cy="694.8" r="1.8"/>
<circle cx="244.2" cy="690.3" r="1.8"/>
<circle cx="248.0" cy="699.1" r="1.8"/>
<circle cx="233.3" cy="685.9" r="1.8"/>
<circle cx="228.3" cy="697.0" r="1.8"/>
<circle cx="241.8" cy="687.2" r="1.8"/>
<circle cx="248.7" cy="687.6" r="1.8"/>
<circle cx="242.3" cy="686.5" r="1.8"/>
<circle cx="238.7" cy="679.0" r="1.8"/>
<circle cx="231.3" cy="679.0" r="1.8"/>
<circle cx="237.7" cy="702.0" r="1.8"/>
<circle cx="257.0" cy="697.6" r="1.8"/>
<circle cx="237.8" cy="694.1" r="1.8"/>
<circle cx="231.2" cy="711.0" r="1.8"/>
<circle cx="238.2" cy="700.3" r="1.8"/>
<circle cx="245.5" cy="703.4" r="1.8"/>
<circle cx="231.0" cy="696.9" r="1.8"/>
<circle cx="232.0" cy="697.1" r="1.8"/>
<circle cx="235.5" cy="694.3" r="1.8"/>
<circle cx="238.1" cy="690.6" r="1.8"/>
<circle cx="231.7" cy="705.0" r="1.8"/>
<circle cx="237.0" cy="705.7" r="1.8"/>
<circle cx="225.7" cy="701.3" r="1.8"/>
<circle cx="236.5" cy="689.5" r="1.8"/>
<circle cx="245.6" cy="689.0" r="1.8"/>
<circle cx="246.3" cy="690.7" r="1.8"/>
<circle cx="245.4" cy="702.6" r="1.8"/>
<circle cx="240.1" cy="713.1" r="1.8"/>
<circle cx="233.9" cy="700.0" r="1.8"/>
<circle cx="241.0" cy="690.4" r="1.8"/>
<circle cx="237.0" cy="691.4" r="1.8"/>
</g>
<circle cx="186.0" cy="761.5" r="2.2" fill="#20d020"/>
<circle cx="237.0" cy="691.4" r="2.2" fill="#ff2020"/>
<rect x="59.2" y="583.7" width="226.2" height="186.3" fill="none" stroke="#000" stroke-width="1.3"/>
<line x1="59.2" y1="770.0" x2="59.2" y2="773.0" stroke="#000" stroke-width="1.2"/>
<text x="59.2" y="789.2" font-family='"Liberation Sans", sans-serif' font-size="12.0" font-weight="normal" text-anchor="middle" fill="#000"  stroke="#000" stroke-width="0.35">0,4</text>
<line x1="91.5" y1="770.0" x2="91.5" y2="773.0" stroke="#000" stroke-width="1.2"/>
<text x="91.5" y="789.2" font-family='"Liberation Sans", sans-serif' font-size="12.0" font-weight="normal" text-anchor="middle" fill="#000"  stroke="#000" stroke-width="0.35">0,6</text>
<line x1="123.8" y1="770.0" x2="123.8" y2="773.0" stroke="#000" stroke-width="1.2"/>
<text x="123.8" y="789.2" font-family='"Liberation Sans", sans-serif' font-size="12.0" font-weight="normal" text-anchor="middle" fill="#000"  stroke="#000" stroke-width="0.35">0,8</text>
<line x1="156.1" y1="770.0" x2="156.1" y2="773.0" stroke="#000" stroke-width="1.2"/>
<text x="156.1" y="789.2" font-family='"Liberation Sans", sans-serif' font-size="12.0" font-weight="normal" text-anchor="middle" fill="#000"  stroke="#000" stroke-width="0.35">1,0</text>
<line x1="188.5" y1="770.0" x2="188.5" y2="773.0" stroke="#000" stroke-width="1.2"/>
<text x="188.5" y="789.2" font-family='"Liberation Sans", sans-serif' font-size="12.0" font-weight="normal" text-anchor="middle" fill="#000"  stroke="#000" stroke-width="0.35">1,2</text>
<line x1="220.8" y1="770.0" x2="220.8" y2="773.0" stroke="#000" stroke-width="1.2"/>
<text x="220.8" y="789.2" font-family='"Liberation Sans", sans-serif' font-size="12.0" font-weight="normal" text-anchor="middle" fill="#000"  stroke="#000" stroke-width="0.35">1,4</text>
<line x1="253.1" y1="770.0" x2="253.1" y2="773.0" stroke="#000" stroke-width="1.2"/>
<text x="253.1" y="789.2" font-family='"Liberation Sans", sans-serif' font-size="12.0" font-weight="normal" text-anchor="middle" fill="#000"  stroke="#000" stroke-width="0.35">1,6</text>
<line x1="285.4" y1="770.0" x2="285.4" y2="773.0" stroke="#000" stroke-width="1.2"/>
<text x="285.4" y="789.2" font-family='"Liberation Sans", sans-serif' font-size="12.0" font-weight="normal" text-anchor="middle" fill="#000"  stroke="#000" stroke-width="0.35">1,8</text>
<line x1="56.2" y1="770.0" x2="59.2" y2="770.0" stroke="#000" stroke-width="1.2"/>
<text x="51.3" y="774.3" font-family='"Liberation Sans", sans-serif' font-size="12.0" font-weight="normal" text-anchor="end" fill="#000"  stroke="#000" stroke-width="0.35">1,4</text>
<line x1="56.2" y1="732.7" x2="59.2" y2="732.7" stroke="#000" stroke-width="1.2"/>
<text x="51.3" y="737.1" font-family='"Liberation Sans", sans-serif' font-size="12.0" font-weight="normal" text-anchor="end" fill="#000"  stroke="#000" stroke-width="0.35">1,6</text>
<line x1="56.2" y1="695.5" x2="59.2" y2="695.5" stroke="#000" stroke-width="1.2"/>
<text x="51.3" y="699.8" font-family='"Liberation Sans", sans-serif' font-size="12.0" font-weight="normal" text-anchor="end" fill="#000"  stroke="#000" stroke-width="0.35">1,8</text>
<line x1="56.2" y1="658.2" x2="59.2" y2="658.2" stroke="#000" stroke-width="1.2"/>
<text x="51.3" y="662.5" font-family='"Liberation Sans", sans-serif' font-size="12.0" font-weight="normal" text-anchor="end" fill="#000"  stroke="#000" stroke-width="0.35">2,0</text>
<line x1="56.2" y1="621.0" x2="59.2" y2="621.0" stroke="#000" stroke-width="1.2"/>
<text x="51.3" y="625.3" font-family='"Liberation Sans", sans-serif' font-size="12.0" font-weight="normal" text-anchor="end" fill="#000"  stroke="#000" stroke-width="0.35">2,2</text>
<line x1="56.2" y1="583.7" x2="59.2" y2="583.7" stroke="#000" stroke-width="1.2"/>
<text x="51.3" y="588.0" font-family='"Liberation Sans", sans-serif' font-size="12.0" font-weight="normal" text-anchor="end" fill="#000"  stroke="#000" stroke-width="0.35">2,4</text>
<text x="172.5" y="813.8" font-family='"Liberation Sans", sans-serif' font-size="14.8" font-weight="bold" text-anchor="middle" fill="#000"  textLength="22.5" lengthAdjust="spacingAndGlyphs">&#181;m</text>
<text transform="translate(24.2,676.8) rotate(-90)" font-family='"Liberation Sans", sans-serif' font-size="14.8" font-weight="bold" text-anchor="middle" textLength="22.5" lengthAdjust="spacingAndGlyphs">&#181;m</text>
<text x="64.8" y="612.0" font-family='"Liberation Serif", serif' font-weight="bold" font-size="30" fill="#000">H</text>
<line x1="353.3" y1="770.0" x2="562.8" y2="616.2" stroke="#e00000" stroke-width="1.1"/>
<g fill="#000">
<circle cx="353.3" cy="770.0" r="1.60"/>
<circle cx="354.1" cy="769.5" r="1.60"/>
<circle cx="354.9" cy="769.0" r="1.60"/>
<circle cx="355.6" cy="768.5" r="1.60"/>
<circle cx="356.4" cy="768.0" r="1.60"/>
<circle cx="357.2" cy="767.5" r="1.60"/>
<circle cx="357.9" cy="767.0" r="1.60"/>
<circle cx="358.7" cy="766.5" r="1.60"/>
<circle cx="359.5" cy="766.0" r="1.60"/>
<circle cx="360.3" cy="765.5" r="1.60"/>
<circle cx="361.1" cy="765.0" r="1.60"/>
<circle cx="361.8" cy="764.5" r="1.60"/>
<circle cx="362.6" cy="764.0" r="1.60"/>
<circle cx="363.4" cy="763.5" r="1.60"/>
<circle cx="364.1" cy="763.0" r="1.60"/>
<circle cx="364.9" cy="762.5" r="1.60"/>
<circle cx="365.7" cy="762.0" r="1.60"/>
<circle cx="366.5" cy="761.6" r="1.60"/>
<circle cx="367.3" cy="761.1" r="1.60"/>
<circle cx="368.1" cy="760.7" r="1.60"/>
<circle cx="368.9" cy="760.2" r="1.60"/>
<circle cx="369.7" cy="759.8" r="1.60"/>
<circle cx="370.5" cy="759.3" r="1.60"/>
<circle cx="371.3" cy="758.9" r="1.60"/>
<circle cx="372.1" cy="758.4" r="1.60"/>
<circle cx="372.9" cy="758.0" r="1.60"/>
<circle cx="373.6" cy="757.6" r="1.60"/>
<circle cx="374.4" cy="757.1" r="1.60"/>
<circle cx="375.2" cy="756.7" r="1.60"/>
<circle cx="376.0" cy="756.2" r="1.60"/>
<circle cx="376.8" cy="755.8" r="1.60"/>
<circle cx="377.6" cy="755.3" r="1.60"/>
<circle cx="378.4" cy="754.9" r="1.60"/>
<circle cx="379.2" cy="754.4" r="1.60"/>
<circle cx="380.0" cy="754.0" r="1.60"/>
<circle cx="380.8" cy="753.5" r="1.60"/>
<circle cx="381.6" cy="753.1" r="1.60"/>
<circle cx="382.4" cy="752.6" r="1.60"/>
<circle cx="383.2" cy="752.1" r="1.60"/>
<circle cx="384.1" cy="751.7" r="1.60"/>
<circle cx="384.9" cy="751.2" r="1.60"/>
<circle cx="385.7" cy="750.7" r="1.60"/>
<circle cx="386.5" cy="750.2" r="1.60"/>
<circle cx="387.3" cy="749.8" r="1.60"/>
<circle cx="388.1" cy="749.3" r="1.60"/>
<circle cx="388.9" cy="748.8" r="1.60"/>
<circle cx="389.8" cy="748.4" r="1.60"/>
<circle cx="390.6" cy="747.9" r="1.60"/>
<circle cx="391.4" cy="747.4" r="1.60"/>
<circle cx="392.2" cy="747.0" r="1.60"/>
<circle cx="393.0" cy="746.5" r="1.60"/>
<circle cx="393.9" cy="746.2" r="1.60"/>
<circle cx="394.8" cy="745.8" r="1.60"/>
<circle cx="395.6" cy="745.5" r="1.60"/>
<circle cx="396.5" cy="745.2" r="1.60"/>
<circle cx="397.4" cy="744.9" r="1.60"/>
<circle cx="398.3" cy="744.5" r="1.60"/>
<circle cx="399.1" cy="744.2" r="1.60"/>
<circle cx="400.0" cy="743.9" r="1.60"/>
<circle cx="400.9" cy="743.5" r="1.60"/>
<circle cx="401.8" cy="743.2" r="1.60"/>
<circle cx="402.7" cy="742.9" r="1.60"/>
<circle cx="403.5" cy="742.6" r="1.60"/>
<circle cx="404.4" cy="742.2" r="1.60"/>
<circle cx="405.3" cy="741.9" r="1.60"/>
<circle cx="406.2" cy="741.6" r="1.60"/>
<circle cx="407.0" cy="741.3" r="1.60"/>
<circle cx="407.9" cy="740.9" r="1.60"/>
<circle cx="408.8" cy="740.6" r="1.60"/>
<circle cx="409.6" cy="740.1" r="1.60"/>
<circle cx="410.4" cy="739.7" r="1.60"/>
<circle cx="411.2" cy="739.2" r="1.60"/>
<circle cx="412.0" cy="738.7" r="1.60"/>
<circle cx="412.8" cy="738.2" r="1.60"/>
<circle cx="413.6" cy="737.8" r="1.60"/>
<circle cx="414.4" cy="737.3" r="1.60"/>
<circle cx="415.2" cy="736.8" r="1.60"/>
<circle cx="416.0" cy="736.4" r="1.60"/>
<circle cx="416.8" cy="735.9" r="1.60"/>
<circle cx="417.6" cy="735.4" r="1.60"/>
<circle cx="418.4" cy="734.9" r="1.60"/>
<circle cx="419.2" cy="734.5" r="1.60"/>
<circle cx="420.0" cy="734.0" r="1.60"/>
<circle cx="420.8" cy="733.5" r="1.60"/>
<circle cx="421.6" cy="733.1" r="1.60"/>
<circle cx="422.5" cy="732.6" r="1.60"/>
<circle cx="423.3" cy="732.1" r="1.60"/>
<circle cx="424.1" cy="731.6" r="1.60"/>
<circle cx="424.9" cy="731.2" r="1.60"/>
<circle cx="425.7" cy="730.7" r="1.60"/>
<circle cx="426.6" cy="730.2" r="1.60"/>
<circle cx="427.4" cy="729.7" r="1.60"/>
<circle cx="428.2" cy="729.3" r="1.60"/>
<circle cx="429.0" cy="728.8" r="1.60"/>
<circle cx="429.8" cy="728.3" r="1.60"/>
<circle cx="430.7" cy="727.8" r="1.60"/>
<circle cx="431.5" cy="727.4" r="1.60"/>
<circle cx="432.3" cy="726.9" r="1.60"/>
<circle cx="433.3" cy="726.7" r="1.60"/>
<circle cx="434.2" cy="726.5" r="1.60"/>
<circle cx="435.2" cy="726.4" r="1.60"/>
<circle cx="436.1" cy="726.2" r="1.60"/>
<circle cx="437.1" cy="726.0" r="1.60"/>
<circle cx="438.1" cy="725.9" r="1.60"/>
<circle cx="439.0" cy="725.7" r="1.60"/>
<circle cx="440.0" cy="725.5" r="1.60"/>
<circle cx="440.9" cy="725.5" r="1.60"/>
<circle cx="441.8" cy="725.5" r="1.60"/>
<circle cx="442.7" cy="725.5" r="1.60"/>
<circle cx="443.6" cy="725.6" r="1.60"/>
<circle cx="444.5" cy="725.6" r="1.60"/>
<circle cx="445.4" cy="725.6" r="1.60"/>
<circle cx="446.4" cy="725.6" r="1.60"/>
<circle cx="447.3" cy="725.6" r="1.60"/>
<circle cx="448.2" cy="725.6" r="1.60"/>
<circle cx="449.1" cy="725.7" r="1.60"/>
<circle cx="450.0" cy="725.7" r="1.60"/>
<circle cx="450.9" cy="725.7" r="1.60"/>
<circle cx="451.8" cy="725.7" r="1.60"/>
<circle cx="452.7" cy="725.5" r="1.60"/>
<circle cx="453.7" cy="725.4" r="1.60"/>
<circle cx="454.6" cy="725.2" r="1.60"/>
<circle cx="455.5" cy="725.1" r="1.60"/>
<circle cx="456.4" cy="724.9" r="1.60"/>
<circle cx="457.4" cy="724.8" r="1.60"/>
<circle cx="458.3" cy="724.6" r="1.60"/>
<circle cx="459.2" cy="724.5" r="1.60"/>
<circle cx="460.1" cy="724.3" r="1.60"/>
<circle cx="461.1" cy="724.2" r="1.60"/>
<circle cx="462.0" cy="724.0" r="1.60"/>
<circle cx="462.8" cy="723.6" r="1.60"/>
<circle cx="463.7" cy="723.3" r="1.60"/>
<circle cx="464.5" cy="722.9" r="1.60"/>
<circle cx="465.3" cy="722.6" r="1.60"/>
<circle cx="466.2" cy="722.2" r="1.60"/>
<circle cx="467.0" cy="721.9" r="1.60"/>
<circle cx="467.8" cy="721.5" r="1.60"/>
<circle cx="468.6" cy="721.1" r="1.60"/>
<circle cx="469.5" cy="720.8" r="1.60"/>
<circle cx="470.3" cy="720.4" r="1.60"/>
<circle cx="471.1" cy="720.1" r="1.60"/>
<circle cx="472.0" cy="719.7" r="1.60"/>
<circle cx="472.8" cy="719.4" r="1.60"/>
<circle cx="473.6" cy="719.0" r="1.60"/>
<circle cx="474.5" cy="718.7" r="1.60"/>
<circle cx="475.3" cy="718.3" r="1.60"/>
<circle cx="476.2" cy="718.2" r="1.60"/>
<circle cx="477.2" cy="718.2" r="1.60"/>
<circle cx="478.1" cy="718.1" r="1.60"/>
<circle cx="479.1" cy="718.1" r="1.60"/>
<circle cx="480.0" cy="718.0" r="1.60"/>
<circle cx="480.8" cy="718.4" r="1.60"/>
<circle cx="481.7" cy="718.7" r="1.60"/>
<circle cx="482.5" cy="719.1" r="1.60"/>
<circle cx="483.3" cy="719.5" r="1.60"/>
<circle cx="484.2" cy="719.8" r="1.60"/>
<circle cx="485.0" cy="720.2" r="1.60"/>
<circle cx="485.8" cy="719.7" r="1.60"/>
<circle cx="486.7" cy="719.1" r="1.60"/>
<circle cx="487.5" cy="718.6" r="1.60"/>
<circle cx="488.3" cy="718.1" r="1.60"/>
<circle cx="489.2" cy="717.5" r="1.60"/>
<circle cx="490.0" cy="717.0" r="1.60"/>
<circle cx="490.7" cy="716.4" r="1.60"/>
<circle cx="491.4" cy="715.8" r="1.60"/>
<circle cx="492.1" cy="715.3" r="1.60"/>
<circle cx="492.8" cy="714.7" r="1.60"/>
<circle cx="493.4" cy="714.1" r="1.60"/>
<circle cx="494.1" cy="713.5" r="1.60"/>
<circle cx="494.8" cy="712.9" r="1.60"/>
<circle cx="495.5" cy="712.4" r="1.60"/>
<circle cx="496.2" cy="711.8" r="1.60"/>
<circle cx="496.9" cy="711.2" r="1.60"/>
<circle cx="497.4" cy="710.5" r="1.60"/>
<circle cx="498.0" cy="709.7" r="1.60"/>
<circle cx="498.5" cy="709.0" r="1.60"/>
<circle cx="499.1" cy="708.2" r="1.60"/>
<circle cx="499.6" cy="707.5" r="1.60"/>
<circle cx="500.1" cy="706.7" r="1.60"/>
<circle cx="500.7" cy="706.0" r="1.60"/>
<circle cx="501.2" cy="705.2" r="1.60"/>
<circle cx="501.8" cy="704.5" r="1.60"/>
<circle cx="502.3" cy="703.7" r="1.60"/>
<circle cx="502.8" cy="703.0" r="1.60"/>
<circle cx="503.4" cy="702.2" r="1.60"/>
<circle cx="503.9" cy="701.5" r="1.60"/>
<circle cx="504.5" cy="700.7" r="1.60"/>
<circle cx="505.0" cy="700.0" r="1.60"/>
<circle cx="505.4" cy="699.2" r="1.60"/>
<circle cx="505.9" cy="698.3" r="1.60"/>
<circle cx="506.3" cy="697.5" r="1.60"/>
<circle cx="506.7" cy="696.7" r="1.60"/>
<circle cx="507.2" cy="695.9" r="1.60"/>
<circle cx="507.6" cy="695.0" r="1.60"/>
<circle cx="508.0" cy="694.2" r="1.60"/>
<circle cx="508.5" cy="693.4" r="1.60"/>
<circle cx="508.9" cy="692.6" r="1.60"/>
<circle cx="509.3" cy="691.7" r="1.60"/>
<circle cx="509.8" cy="690.9" r="1.60"/>
<circle cx="510.2" cy="690.1" r="1.60"/>
<circle cx="510.6" cy="689.2" r="1.60"/>
<circle cx="511.0" cy="688.4" r="1.60"/>
<circle cx="511.5" cy="687.6" r="1.60"/>
<circle cx="511.9" cy="686.8" r="1.60"/>
<circle cx="512.3" cy="685.9" r="1.60"/>
<circle cx="512.8" cy="685.1" r="1.60"/>
<circle cx="513.2" cy="684.3" r="1.60"/>
<circle cx="513.6" cy="683.5" r="1.60"/>
<circle cx="514.1" cy="682.6" r="1.60"/>
<circle cx="514.5" cy="681.8" r="1.60"/>
<circle cx="515.3" cy="681.2" r="1.60"/>
<circle cx="516.0" cy="680.6" r="1.60"/>
<circle cx="516.8" cy="680.0" r="1.60"/>
<circle cx="517.5" cy="679.4" r="1.60"/>
<circle cx="518.3" cy="678.8" r="1.60"/>
<circle cx="519.0" cy="678.2" r="1.60"/>
<circle cx="519.8" cy="677.6" r="1.60"/>
<circle cx="520.5" cy="677.0" r="1.60"/>
<circle cx="521.3" cy="676.4" r="1.60"/>
<circle cx="522.0" cy="675.8" r="1.60"/>
<circle cx="522.8" cy="675.2" r="1.60"/>
<circle cx="523.5" cy="674.6" r="1.60"/>
<circle cx="524.3" cy="674.0" r="1.60"/>
<circle cx="524.9" cy="673.3" r="1.60"/>
<circle cx="525.4" cy="672.6" r="1.60"/>
<circle cx="526.0" cy="671.9" r="1.60"/>
<circle cx="526.6" cy="671.2" r="1.60"/>
<circle cx="527.1" cy="670.5" r="1.60"/>
<circle cx="527.7" cy="669.8" r="1.60"/>
<circle cx="528.3" cy="669.1" r="1.60"/>
<circle cx="528.9" cy="668.4" r="1.60"/>
<circle cx="529.4" cy="667.7" r="1.60"/>
<circle cx="530.0" cy="667.0" r="1.60"/>
<circle cx="530.7" cy="666.2" r="1.60"/>
<circle cx="531.3" cy="665.4" r="1.60"/>
<circle cx="532.0" cy="664.6" r="1.60"/>
<circle cx="532.6" cy="663.8" r="1.60"/>
<circle cx="533.3" cy="663.0" r="1.60"/>
<circle cx="534.2" cy="663.5" r="1.60"/>
<circle cx="535.1" cy="664.0" r="1.60"/>
<circle cx="536.1" cy="664.5" r="1.60"/>
<circle cx="537.0" cy="665.0" r="1.60"/>
<circle cx="537.6" cy="665.8" r="1.60"/>
<circle cx="538.1" cy="666.6" r="1.60"/>
<circle cx="538.7" cy="667.3" r="1.60"/>
<circle cx="539.2" cy="668.1" r="1.60"/>
<circle cx="539.8" cy="668.9" r="1.60"/>
<circle cx="540.3" cy="669.7" r="1.60"/>
<circle cx="540.9" cy="670.4" r="1.60"/>
<circle cx="541.4" cy="671.2" r="1.60"/>
<circle cx="542.0" cy="672.0" r="1.60"/>
<circle cx="542.4" cy="672.9" r="1.60"/>
<circle cx="542.8" cy="673.8" r="1.60"/>
<circle cx="543.2" cy="674.7" r="1.60"/>
<circle cx="543.6" cy="675.6" r="1.60"/>
<circle cx="543.9" cy="676.4" r="1.60"/>
<circle cx="544.3" cy="677.3" r="1.60"/>
<circle cx="544.7" cy="678.2" r="1.60"/>
<circle cx="545.1" cy="679.1" r="1.60"/>
<circle cx="545.5" cy="680.0" r="1.60"/>
<circle cx="546.0" cy="681.9" r="1.60"/>
<circle cx="546.4" cy="683.9" r="1.15"/>
<circle cx="546.9" cy="685.8" r="1.15"/>
<circle cx="547.3" cy="687.8" r="1.15"/>
<circle cx="547.8" cy="689.7" r="1.15"/>
<circle cx="548.2" cy="691.8" r="1.15"/>
<circle cx="548.5" cy="693.8" r="1.15"/>
<circle cx="548.9" cy="695.9" r="1.15"/>
<circle cx="549.3" cy="697.9" r="1.15"/>
<circle cx="549.6" cy="700.0" r="1.15"/>
<circle cx="550.0" cy="702.0" r="1.15"/>
<circle cx="550.3" cy="703.8" r="1.15"/>
<circle cx="550.7" cy="705.7" r="1.15"/>
<circle cx="551.0" cy="707.5" r="1.15"/>
<circle cx="551.4" cy="709.4" r="1.15"/>
<circle cx="551.7" cy="711.2" r="1.15"/>
<circle cx="552.1" cy="713.2" r="1.15"/>
<circle cx="552.5" cy="715.1" r="1.15"/>
<circle cx="552.9" cy="717.1" r="1.15"/>
<circle cx="553.3" cy="719.1" r="1.15"/>
<circle cx="553.7" cy="721.1" r="1.15"/>
<circle cx="554.1" cy="723.0" r="1.15"/>
<circle cx="554.5" cy="725.0" r="1.15"/>
<circle cx="557.0" cy="726.0" r="1.15"/>
<circle cx="558.2" cy="724.5" r="1.15"/>
<circle cx="559.5" cy="723.0" r="1.15"/>
<circle cx="560.5" cy="725.0" r="1.15"/>
<circle cx="561.5" cy="727.0" r="1.15"/>
</g>
<rect x="353.3" y="583.6" width="227.0" height="186.4" fill="none" stroke="#000" stroke-width="1.3"/>
<line x1="353.3" y1="770.0" x2="353.3" y2="773.0" stroke="#000" stroke-width="1.2"/>
<text x="353.3" y="790.0" font-family='"Liberation Sans", sans-serif' font-size="12.0" font-weight="normal" text-anchor="middle" fill="#000"  stroke="#000" stroke-width="0.35">0</text>
<line x1="381.7" y1="770.0" x2="381.7" y2="773.0" stroke="#000" stroke-width="1.2"/>
<text x="381.7" y="790.0" font-family='"Liberation Sans", sans-serif' font-size="12.0" font-weight="normal" text-anchor="middle" fill="#000"  stroke="#000" stroke-width="0.35">20</text>
<line x1="410.1" y1="770.0" x2="410.1" y2="773.0" stroke="#000" stroke-width="1.2"/>
<text x="410.1" y="790.0" font-family='"Liberation Sans", sans-serif' font-size="12.0" font-weight="normal" text-anchor="middle" fill="#000"  stroke="#000" stroke-width="0.35">40</text>
<line x1="438.4" y1="770.0" x2="438.4" y2="773.0" stroke="#000" stroke-width="1.2"/>
<text x="438.4" y="790.0" font-family='"Liberation Sans", sans-serif' font-size="12.0" font-weight="normal" text-anchor="middle" fill="#000"  stroke="#000" stroke-width="0.35">60</text>
<line x1="466.8" y1="770.0" x2="466.8" y2="773.0" stroke="#000" stroke-width="1.2"/>
<text x="466.8" y="790.0" font-family='"Liberation Sans", sans-serif' font-size="12.0" font-weight="normal" text-anchor="middle" fill="#000"  stroke="#000" stroke-width="0.35">80</text>
<line x1="495.2" y1="770.0" x2="495.2" y2="773.0" stroke="#000" stroke-width="1.2"/>
<text x="495.2" y="790.0" font-family='"Liberation Sans", sans-serif' font-size="12.0" font-weight="normal" text-anchor="middle" fill="#000"  stroke="#000" stroke-width="0.35">100</text>
<line x1="523.5" y1="770.0" x2="523.5" y2="773.0" stroke="#000" stroke-width="1.2"/>
<text x="523.5" y="790.0" font-family='"Liberation Sans", sans-serif' font-size="12.0" font-weight="normal" text-anchor="middle" fill="#000"  stroke="#000" stroke-width="0.35">120</text>
<line x1="551.9" y1="770.0" x2="551.9" y2="773.0" stroke="#000" stroke-width="1.2"/>
<text x="551.9" y="790.0" font-family='"Liberation Sans", sans-serif' font-size="12.0" font-weight="normal" text-anchor="middle" fill="#000"  stroke="#000" stroke-width="0.35">140</text>
<line x1="580.3" y1="770.0" x2="580.3" y2="773.0" stroke="#000" stroke-width="1.2"/>
<text x="580.3" y="790.0" font-family='"Liberation Sans", sans-serif' font-size="12.0" font-weight="normal" text-anchor="middle" fill="#000"  stroke="#000" stroke-width="0.35">160</text>
<line x1="350.3" y1="770.0" x2="353.3" y2="770.0" stroke="#000" stroke-width="1.2"/>
<text x="345.9" y="774.3" font-family='"Liberation Sans", sans-serif' font-size="12.0" font-weight="normal" text-anchor="end" fill="#000"  stroke="#000" stroke-width="0.35">0,0</text>
<line x1="350.3" y1="732.7" x2="353.3" y2="732.7" stroke="#000" stroke-width="1.2"/>
<text x="345.9" y="737.0" font-family='"Liberation Sans", sans-serif' font-size="12.0" font-weight="normal" text-anchor="end" fill="#000"  stroke="#000" stroke-width="0.35">0,2</text>
<line x1="350.3" y1="695.4" x2="353.3" y2="695.4" stroke="#000" stroke-width="1.2"/>
<text x="345.9" y="699.8" font-family='"Liberation Sans", sans-serif' font-size="12.0" font-weight="normal" text-anchor="end" fill="#000"  stroke="#000" stroke-width="0.35">0,4</text>
<line x1="350.3" y1="658.2" x2="353.3" y2="658.2" stroke="#000" stroke-width="1.2"/>
<text x="345.9" y="662.5" font-family='"Liberation Sans", sans-serif' font-size="12.0" font-weight="normal" text-anchor="end" fill="#000"  stroke="#000" stroke-width="0.35">0,6</text>
<line x1="350.3" y1="620.9" x2="353.3" y2="620.9" stroke="#000" stroke-width="1.2"/>
<text x="345.9" y="625.2" font-family='"Liberation Sans", sans-serif' font-size="12.0" font-weight="normal" text-anchor="end" fill="#000"  stroke="#000" stroke-width="0.35">0,8</text>
<line x1="350.3" y1="583.6" x2="353.3" y2="583.6" stroke="#000" stroke-width="1.2"/>
<text x="345.9" y="587.9" font-family='"Liberation Sans", sans-serif' font-size="12.0" font-weight="normal" text-anchor="end" fill="#000"  stroke="#000" stroke-width="0.35">1,0</text>
<text x="467.0" y="814.0" font-family='"Liberation Sans", sans-serif' font-size="13.6" font-weight="bold" text-anchor="middle" fill="#000"  textLength="69.5" lengthAdjust="spacingAndGlyphs">time (sec)</text>
<text transform="translate(319.2,677.5) rotate(-90)" font-family='"Liberation Sans", sans-serif' font-size="15" font-weight="bold" text-anchor="middle" textLength="79" lengthAdjust="spacingAndGlyphs">MSD (mm<tspan font-size="10" dy="-7.5">2</tspan><tspan dy="7.5">)</tspan></text>
<text x="358.3" y="611.0" font-family='"Liberation Serif", serif' font-weight="bold" font-size="30" fill="#000">I</text>
<path d="M58.8,933.1 L59.4,931.7 L59.9,933.0 L60.5,931.6 L61.0,932.1 L61.6,932.2 L62.1,930.0 L62.7,930.5 L63.2,930.8 L63.8,930.8 L64.3,930.7 L64.8,931.9 L65.4,932.2 L65.9,934.1 L66.4,934.7 L67.0,935.2 L67.5,936.6 L68.0,937.7 L68.6,938.6 L69.1,936.8 L69.7,935.4 L70.3,934.5 L70.8,933.4 L71.4,933.8 L71.9,932.4 L72.5,931.0 L73.1,929.5 L73.6,929.9 L74.2,929.3 L74.8,930.2 L75.3,929.3 L75.8,930.4 L76.4,930.1 L76.9,927.4 L77.4,929.0 L78.0,926.9 L78.5,926.2 L79.0,926.3 L79.6,925.5 L80.1,924.9 L80.6,924.0 L81.2,924.6 L81.7,925.2 L82.2,925.3 L82.8,925.7 L83.3,924.6 L83.8,924.6 L84.4,922.6 L84.9,924.2 L85.4,924.1 L86.0,923.7 L86.5,924.3 L87.0,920.7 L87.6,922.7 L88.1,921.5 L88.6,920.9 L89.1,918.4 L89.7,920.3 L90.2,918.2 L90.7,918.7 L91.3,918.2 L91.8,918.3 L92.4,917.0 L92.9,917.8 L93.5,917.1 L94.0,916.2 L94.6,914.1 L95.1,917.0 L95.7,914.5 L96.2,913.7 L96.8,914.4 L97.3,913.9 L97.8,914.2 L98.4,912.2 L98.9,912.3 L99.5,912.6 L100.0,912.6 L100.6,912.4 L101.1,912.1 L101.7,912.4 L102.2,909.6 L102.8,911.8 L103.3,914.3 L103.9,912.1 L104.4,910.8 L104.9,909.5 L105.5,909.9 L106.0,910.2 L106.5,910.0 L107.1,909.5 L107.6,910.7 L108.1,911.4 L108.7,909.7 L109.2,910.3 L109.7,912.2 L110.3,910.2 L110.8,911.0 L111.4,912.9 L111.9,914.7 L112.5,914.4 L113.0,915.6 L113.6,916.7 L114.1,917.7 L114.7,917.7 L115.3,916.2 L115.8,917.0 L116.4,918.5 L117.0,917.4 L117.5,917.6 L118.1,917.0 L118.7,916.5 L119.2,917.7 L119.8,918.5 L120.4,918.9 L120.9,920.2 L121.4,919.3 L122.0,918.4 L122.5,919.2 L123.0,920.1 L123.6,920.8 L124.1,921.7 L124.6,922.4 L125.2,922.5 L125.7,923.1 L126.2,923.2 L126.8,923.2 L127.4,920.9 L127.9,919.6 L128.5,919.7 L129.1,920.3 L129.6,918.0 L130.2,915.3 L130.8,915.2 L131.4,914.5 L131.9,913.8 L132.5,911.8 L133.1,911.8 L133.6,909.6 L134.2,909.2 L134.8,907.4 L135.3,907.5 L135.9,907.6 L136.4,908.7 L137.0,908.4 L137.5,907.6 L138.1,906.2 L138.7,905.8 L139.2,906.3 L139.8,905.3 L140.3,904.1 L140.9,904.5 L141.4,904.8 L142.0,904.7 L142.5,903.4 L143.1,902.8 L143.6,903.7 L144.2,902.8 L144.7,903.0 L145.3,903.2 L145.8,901.2 L146.4,900.4 L146.9,901.3 L147.5,900.9 L148.0,900.1 L148.6,900.6 L149.1,900.2 L149.7,899.1 L150.2,900.7 L150.8,899.3 L151.3,898.0 L151.9,897.5 L152.4,898.8 L153.0,897.7 L153.5,898.1 L154.1,896.7 L154.6,895.9 L155.2,896.1 L155.7,897.2 L156.3,897.7 L156.9,896.6 L157.4,897.7 L158.0,897.1 L158.5,896.8 L159.1,897.4 L159.6,895.3 L160.2,896.5 L160.7,895.2 L161.3,898.5 L161.8,900.5 L162.4,898.4 L163.0,897.8 L163.5,898.5 L164.0,898.6 L164.6,900.4 L165.1,900.2 L165.6,900.5 L166.2,900.0 L166.7,898.7 L167.2,898.9 L167.8,898.7 L168.3,899.7 L168.8,900.0 L169.4,899.7 L169.9,899.9 L170.4,898.6 L171.0,900.1 L171.5,898.2 L172.0,900.0 L172.6,899.1 L173.1,900.4 L173.6,898.8 L174.2,899.5 L174.7,899.8 L175.3,899.8 L175.8,901.3 L176.4,902.6 L176.9,904.3 L177.5,902.2 L178.0,903.2 L178.6,903.7 L179.1,903.6 L179.7,901.8 L180.3,904.6 L180.8,904.2 L181.4,904.8 L181.9,904.4 L182.5,906.6 L183.0,906.5 L183.6,905.5 L184.1,904.5 L184.7,904.2 L185.2,906.5 L185.8,907.0 L186.3,907.6 L186.9,909.3 L187.4,910.4 L187.9,909.1 L188.5,909.1 L189.0,909.7 L189.6,908.8 L190.1,910.7 L190.7,909.8 L191.2,909.7 L191.7,909.7 L192.3,909.0 L192.8,908.8 L193.3,908.6 L193.9,908.3 L194.4,906.5 L194.9,907.6 L195.5,906.8 L196.0,906.7 L196.5,907.4 L197.1,906.6 L197.6,907.6 L198.1,906.1 L198.6,907.0 L199.2,907.0 L199.7,906.1 L200.2,905.0 L200.8,904.2 L201.3,903.7 L201.8,904.3 L202.4,905.2 L202.9,904.0 L203.4,903.5 L204.0,904.3 L204.5,902.7 L205.0,902.5 L205.6,903.4 L206.1,902.3 L206.7,903.6 L207.2,903.7 L207.8,902.6 L208.4,903.8 L208.9,902.9 L209.5,903.8 L210.1,902.2 L210.6,902.8 L211.2,902.2 L211.7,903.4 L212.3,903.0 L212.9,901.4 L213.4,901.0 L214.0,902.9 L214.6,901.1 L215.1,900.2 L215.7,900.9 L216.3,899.5 L216.8,901.0 L217.4,900.8 L218.0,899.5 L218.5,898.6 L219.1,898.2 L219.6,900.3 L220.2,902.0 L220.7,900.7 L221.3,901.8 L221.8,901.1 L222.3,901.9 L222.9,900.0 L223.4,899.3 L224.0,899.2 L224.5,899.7 L225.1,899.9 L225.6,900.3 L226.2,899.7 L226.7,899.5 L227.3,899.1 L227.8,899.7 L228.4,897.7 L228.9,898.2 L229.4,897.3 L230.0,896.8 L230.5,898.7 L231.1,900.3 L231.6,898.2 L232.2,898.7 L232.7,898.4 L233.3,898.4 L233.8,897.9 L234.4,898.8 L235.0,898.1 L235.5,898.0 L236.1,897.4 L236.6,899.2 L237.2,897.0 L237.7,896.2 L238.3,897.7 L238.9,897.3 L239.4,896.3 L240.0,895.1 L240.5,895.0 L241.1,893.5 L241.7,893.9 L242.2,895.0 L242.8,895.9 L243.4,895.2 L244.0,896.4 L244.6,895.8 L245.2,895.7 L245.7,896.2 L246.3,896.3 L246.9,897.8 L247.5,898.8 L248.0,900.2 L248.5,901.3 L249.0,903.1 L249.6,903.3 L250.1,904.3 L250.6,905.5 L251.2,904.9 L251.7,904.7 L252.2,905.7 L252.8,904.5 L253.3,904.4 L253.9,904.4 L254.4,906.1 L254.9,907.9 L255.5,907.0 L256.0,907.0 L256.6,906.6 L257.1,906.9 L257.6,906.4 L258.2,907.7 L258.7,907.1 L259.3,908.2 L259.8,909.9 L260.3,908.9 L260.9,906.4 L261.4,908.1 L262.0,906.2 L262.5,906.8 L263.0,906.7 L263.6,906.1 L264.1,905.5 L264.7,906.2 L265.2,905.4 L265.7,904.5 L266.3,903.5 L266.8,904.4 L267.3,902.5 L267.9,901.1 L268.4,899.7 L268.9,902.5 L269.5,902.3 L270.0,903.9 L270.5,902.9 L271.1,902.3 L271.6,903.7 L272.1,904.8 L272.7,903.8 L273.2,902.9 L273.7,903.9 L274.3,903.9 L274.8,906.2 L275.3,905.6 L275.9,904.5 L276.5,904.0 L277.1,902.4 L277.7,904.3 L278.2,906.3 L278.8,904.7 L279.4,905.0 L280.0,904.3 L280.6,903.6 L281.2,904.3" fill="none" stroke="#000" stroke-width="2.3" stroke-linejoin="round"/>
<path d="M58.8,933.1 L59.4,931.7 L59.9,933.0 L60.5,931.6 L61.0,932.1 L61.6,932.2 L62.1,930.0 L62.7,930.5 L63.2,930.8 L63.8,930.8 L64.3,930.7 L64.8,931.9 L65.4,932.2 L65.9,934.1 L66.4,934.7 L67.0,935.2 L67.5,936.6 L68.0,937.7 L68.6,938.6 L69.1,936.8 L69.7,935.4 L70.3,934.5 L70.8,933.4 L71.4,933.8 L71.9,932.4 L72.5,931.0 L73.1,929.5 L73.6,929.9 L74.2,929.3 L74.8,930.2 L75.3,929.3 L75.8,930.4 L76.4,930.1 L76.9,927.4 L77.4,929.0 L78.0,926.9 L78.5,926.2 L79.0,926.3 L79.6,925.5 L80.1,924.9 L80.6,924.0 L81.2,924.6 L81.7,925.2 L82.2,925.3 L82.8,925.7 L83.3,924.6 L83.8,924.6 L84.4,922.6 L84.9,924.2 L85.4,924.1 L86.0,923.7 L86.5,924.3 L87.0,920.7 L87.6,922.7 L88.1,921.5 L88.6,920.9 L89.1,918.4 L89.7,920.3 L90.2,918.2 L90.7,918.7 L91.3,918.2 L91.8,918.3 L92.4,917.0 L92.9,917.8 L93.5,917.1 L94.0,916.2 L94.6,914.1 L95.1,917.0 L95.7,914.5 L96.2,913.7 L96.8,914.4 L97.3,913.9 L97.8,914.2 L98.4,912.2 L98.9,912.3 L99.5,912.6 L100.0,912.6 L100.6,912.4 L101.1,912.1 L101.7,912.4 L102.2,909.6 L102.8,911.8 L103.3,914.3 L103.9,912.1 L104.4,910.8 L104.9,909.5 L105.5,909.9 L106.0,910.2 L106.5,910.0 L107.1,909.5 L107.6,910.7 L108.1,911.4 L108.7,909.7 L109.2,910.3 L109.7,912.2 L110.3,910.2 L110.8,911.0 L111.4,912.9 L111.9,914.7 L112.5,914.4 L113.0,915.6 L113.6,916.7 L114.1,917.7 L114.7,917.7 L115.3,916.2 L115.8,917.0 L116.4,918.5 L117.0,917.4 L117.5,917.6 L118.1,917.0 L118.7,916.5 L119.2,917.7 L119.8,918.5 L120.4,918.9 L120.9,920.2 L121.4,919.3 L122.0,918.4 L122.5,919.2 L123.0,920.1 L123.6,920.8 L124.1,921.7 L124.6,922.4 L125.2,922.5 L125.7,923.1 L126.2,923.2 L126.8,923.2 L127.4,920.9 L127.9,919.6 L128.5,919.7 L129.1,920.3 L129.6,918.0 L130.2,915.3 L130.8,915.2 L131.4,914.5 L131.9,913.8 L132.5,911.8 L133.1,911.8 L133.6,909.6 L134.2,909.2 L134.8,907.4 L135.3,907.5 L135.9,907.6 L136.4,908.7 L137.0,908.4 L137.5,907.6 L138.1,906.2 L138.7,905.8 L139.2,906.3 L139.8,905.3 L140.3,904.1 L140.9,904.5 L141.4,904.8 L142.0,904.7 L142.5,903.4 L143.1,902.8 L143.6,903.7 L144.2,902.8 L144.7,903.0 L145.3,903.2 L145.8,901.2 L146.4,900.4 L146.9,901.3 L147.5,900.9 L148.0,900.1 L148.6,900.6 L149.1,900.2 L149.7,899.1 L150.2,900.7 L150.8,899.3 L151.3,898.0 L151.9,897.5 L152.4,898.8 L153.0,897.7 L153.5,898.1 L154.1,896.7 L154.6,895.9 L155.2,896.1 L155.7,897.2 L156.3,897.7 L156.9,896.6 L157.4,897.7 L158.0,897.1 L158.5,896.8 L159.1,897.4 L159.6,895.3 L160.2,896.5 L160.7,895.2 L161.3,898.5 L161.8,900.5 L162.4,898.4 L163.0,897.8 L163.5,898.5 L164.0,898.6 L164.6,900.4 L165.1,900.2 L165.6,900.5 L166.2,900.0 L166.7,898.7 L167.2,898.9 L167.8,898.7 L168.3,899.7 L168.8,900.0 L169.4,899.7 L169.9,899.9 L170.4,898.6 L171.0,900.1 L171.5,898.2 L172.0,900.0 L172.6,899.1 L173.1,900.4 L173.6,898.8 L174.2,899.5 L174.7,899.8 L175.3,899.8 L175.8,901.3 L176.4,902.6 L176.9,904.3 L177.5,902.2 L178.0,903.2 L178.6,903.7 L179.1,903.6 L179.7,901.8 L180.3,904.6 L180.8,904.2 L181.4,904.8 L181.9,904.4 L182.5,906.6 L183.0,906.5 L183.6,905.5 L184.1,904.5 L184.7,904.2 L185.2,906.5 L185.8,907.0 L186.3,907.6 L186.9,909.3 L187.4,910.4 L187.9,909.1 L188.5,909.1 L189.0,909.7 L189.6,908.8 L190.1,910.7 L190.7,909.8 L191.2,909.7 L191.7,909.7 L192.3,909.0 L192.8,908.8 L193.3,908.6 L193.9,908.3 L194.4,906.5 L194.9,907.6 L195.5,906.8 L196.0,906.7 L196.5,907.4 L197.1,906.6 L197.6,907.6 L198.1,906.1 L198.6,907.0 L199.2,907.0 L199.7,906.1 L200.2,905.0 L200.8,904.2 L201.3,903.7 L201.8,904.3 L202.4,905.2 L202.9,904.0 L203.4,903.5 L204.0,904.3 L204.5,902.7 L205.0,902.5 L205.6,903.4 L206.1,902.3 L206.7,903.6 L207.2,903.7 L207.8,902.6 L208.4,903.8 L208.9,902.9 L209.5,903.8 L210.1,902.2 L210.6,902.8 L211.2,902.2 L211.7,903.4 L212.3,903.0 L212.9,901.4 L213.4,901.0 L214.0,902.9 L214.6,901.1 L215.1,900.2 L215.7,900.9 L216.3,899.5 L216.8,901.0 L217.4,900.8 L218.0,899.5 L218.5,898.6 L219.1,897.8 L219.6,899.5 L220.1,900.9 L220.7,899.3 L221.2,900.0 L221.8,895.8 L222.4,893.0 L223.0,887.5 L223.7,883.3 L224.3,879.6 L224.8,880.0 L225.4,880.1 L226.0,880.4 L226.5,879.9 L227.1,879.7 L227.6,879.3 L228.2,880.0 L228.7,878.0 L229.3,878.5 L229.8,877.7 L230.4,877.3 L230.9,879.1 L231.5,880.5 L232.0,878.2 L232.6,878.4 L233.1,877.9 L233.7,877.8 L234.2,877.2 L234.8,878.0 L235.3,877.2 L235.9,876.9 L236.4,876.2 L237.0,877.8 L237.5,875.5 L238.0,874.6 L238.6,876.1 L239.1,875.8 L239.7,874.9 L240.2,873.8 L240.8,873.7 L241.3,872.3 L241.9,872.8 L242.4,873.9 L243.0,874.1 L243.5,872.7 L244.1,873.3 L244.6,872.1 L245.1,871.2 L245.7,870.7 L246.2,869.7 L246.7,870.1 L247.3,869.9 L247.8,870.0 L248.3,869.8 L248.9,870.3 L249.4,869.4 L249.9,869.1 L250.5,869.0 L251.0,866.7 L251.6,864.8 L252.1,864.0 L252.7,861.6 L253.2,860.2 L253.8,858.9 L254.4,859.3 L254.9,859.9 L255.5,856.6 L256.1,854.2 L256.7,851.5 L257.2,849.4 L257.8,846.5 L258.4,845.5 L259.0,843.0 L259.6,844.8 L260.2,847.3 L260.8,847.1 L261.4,845.4 L262.0,847.8 L262.6,847.7 L263.2,850.0 L263.8,851.6 L264.4,852.7 L265.0,853.8 L265.6,856.3 L266.2,857.2 L266.8,855.6 L267.3,853.9 L267.9,854.0 L268.5,851.4 L269.1,849.2 L269.7,848.4 L270.3,851.7 L270.9,852.0 L271.5,854.2 L272.1,853.3 L272.8,854.1 L273.4,856.8 L274.0,859.3 L274.7,859.7 L275.3,860.1 L275.8,863.1 L276.4,865.1 L276.9,869.3 L277.4,870.7 L278.0,871.6 L278.6,870.6 L279.3,868.6 L279.9,870.0 L280.5,871.5 L281.2,868.8" fill="none" stroke="#e00000" stroke-width="2.6" stroke-linejoin="round"/>
<path d="M58.8,941.3 L60.4,942.3 L61.9,940.8 L63.5,944.0 L65.0,942.9 L66.5,945.9 L67.9,943.7 L69.3,944.5 L70.8,944.1 L72.3,946.6 L73.8,947.1 L75.3,948.6 L76.8,950.4 L78.3,950.5 L80.0,952.6 L81.7,952.8 L83.4,952.0 L85.1,952.8 L86.8,954.2 L88.3,951.8 L89.8,953.7 L91.3,955.6 L92.8,955.8 L94.3,957.0 L95.8,957.4 L97.4,957.8 L99.0,955.2 L100.5,956.8 L101.9,956.7 L103.3,955.8 L104.8,953.5 L106.2,955.1 L107.6,955.9 L109.0,952.1 L110.4,955.0 L111.9,954.5 L113.3,952.7 L114.7,949.7 L116.2,952.3 L117.7,954.8 L119.1,951.9 L120.6,951.9 L122.1,951.5 L123.6,950.1 L125.1,949.6 L126.6,949.1 L128.1,949.6 L129.7,947.5 L131.2,946.2 L132.7,947.2 L134.2,948.0 L135.6,946.8 L137.1,946.6 L138.5,948.2 L139.9,948.0 L141.3,945.9 L142.7,946.0 L144.2,946.0 L145.6,944.9 L147.0,944.5 L148.4,943.9 L150.0,946.8 L151.6,943.9 L153.2,944.9 L154.8,947.0 L156.4,946.0 L158.0,946.6 L159.7,947.5 L161.3,946.9 L162.9,945.5 L164.5,947.3 L166.2,947.1 L167.8,946.3 L169.4,950.0 L171.1,951.0 L172.7,950.0 L174.3,952.7 L175.9,952.2 L177.5,950.2 L179.0,949.9 L180.5,950.4 L182.0,953.8 L183.5,950.1 L185.1,951.0 L186.6,951.2 L188.2,951.6 L189.8,954.6 L191.4,955.5 L193.0,955.7 L194.6,952.1 L196.2,953.9 L197.8,954.0 L199.4,954.1 L201.0,953.2 L202.6,953.0 L204.0,952.4 L205.4,953.6 L206.8,956.0 L208.2,952.5 L209.7,950.6 L211.1,947.9 L212.6,947.7 L214.1,947.7 L215.6,945.8 L217.0,946.7 L218.5,945.9 L220.1,945.5 L221.7,943.5 L223.3,940.2 L224.9,940.2 L226.5,939.5 L228.1,940.9 L229.6,941.7 L231.2,943.2 L232.7,943.8 L234.5,947.3 L236.3,947.7 L238.0,948.4 L239.5,945.4 L240.9,944.0 L242.3,942.7 L243.7,941.3 L245.1,942.7 L246.6,940.5 L248.0,937.6 L249.4,938.0 L250.8,936.1 L252.2,935.9 L253.8,936.5 L255.3,933.6 L256.9,932.5 L258.5,929.9 L260.1,928.3 L261.6,925.5 L263.2,926.2 L264.8,920.1 L266.4,917.4 L267.9,918.0 L269.3,918.3 L270.7,916.5 L272.1,914.3 L274.2,915.4 L276.2,916.6 L278.2,920.9 L280.2,920.2" fill="none" stroke="#000" stroke-width="1.9" stroke-dasharray="1.9,2.7"/>
<path d="M58.8,941.3 L60.4,942.3 L61.9,940.8 L63.5,944.0 L65.0,942.9 L66.5,945.9 L67.9,943.7 L69.3,944.5 L70.8,944.1 L72.3,946.6 L73.8,947.1 L75.3,948.6 L76.8,950.4 L78.3,950.5 L80.0,952.6 L81.7,952.8 L83.4,952.0 L85.1,952.8 L86.8,954.2 L88.3,951.8 L89.8,953.7 L91.3,955.6 L92.8,955.8 L94.3,957.0 L95.8,957.4 L97.4,957.8 L99.0,955.2 L100.5,956.8 L101.9,956.7 L103.3,955.8 L104.8,953.5 L106.2,955.1 L107.6,955.9 L109.0,952.1 L110.4,955.0 L111.9,954.5 L113.3,952.7 L114.7,949.7 L116.2,952.3 L117.7,954.8 L119.1,951.9 L120.6,951.9 L122.1,951.5 L123.6,950.1 L125.1,949.6 L126.6,949.1 L128.1,949.6 L129.7,947.5 L131.2,946.2 L132.7,947.2 L134.2,948.0 L135.6,946.8 L137.1,946.6 L138.5,948.2 L139.9,948.0 L141.3,945.9 L142.7,946.0 L144.2,946.0 L145.6,944.9 L147.0,944.5 L148.4,943.9 L150.0,946.8 L151.6,943.9 L153.2,944.9 L154.8,947.0 L156.4,946.0 L158.0,946.6 L159.7,947.5 L161.3,946.9 L162.9,945.5 L164.5,947.3 L166.2,947.1 L167.8,946.3 L169.4,950.0 L171.1,951.0 L172.7,950.0 L174.3,952.7 L175.9,952.2 L177.5,950.2 L179.0,949.9 L180.5,950.4 L182.0,953.8 L183.5,950.1 L185.1,951.0 L186.6,951.2 L188.2,951.6 L189.8,954.6 L191.4,955.5 L193.0,955.7 L194.6,952.1 L196.2,953.9 L197.8,954.0 L199.4,954.1 L201.0,953.2 L202.6,953.0 L204.0,952.4 L205.4,953.6 L206.8,956.0 L208.2,952.5 L209.7,950.6 L211.1,947.9 L212.6,947.7 L214.1,947.7 L215.6,945.8 L217.0,946.7 L218.5,945.9 L220.0,947.5 L221.5,947.5 L223.0,946.2 L224.7,951.3 L226.5,955.6 L228.3,966.5 L230.1,970.8 L231.8,971.5 L233.6,971.5 L236.3,970.7 L238.0,965.1 L239.8,958.3 L241.4,955.0 L242.9,953.4 L244.5,951.8 L246.0,950.2 L247.5,953.0 L249.0,953.0 L250.5,952.5 L252.2,955.4 L254.0,955.9 L255.4,956.4 L256.9,957.9 L258.3,955.9 L259.7,955.8 L261.1,954.1 L262.5,955.3 L264.0,955.2 L265.4,958.7 L266.8,955.4 L268.2,955.5 L269.7,959.4 L271.2,962.9 L272.7,964.5 L274.4,965.2 L276.2,966.8 L278.9,969.3" fill="none" stroke="#e00000" stroke-width="1.9" stroke-dasharray="1.9,2.7" stroke-dashoffset="2.3"/>
<rect x="58.8" y="829.2" width="231.6" height="173.0" fill="none" stroke="#000" stroke-width="1.3"/>
<line x1="58.8" y1="1002.2" x2="58.8" y2="1005.2" stroke="#000" stroke-width="1.2"/>
<text x="58.8" y="1022.7" font-family='"Liberation Sans", sans-serif' font-size="12.8" font-weight="normal" text-anchor="middle" fill="#000"  stroke="#000" stroke-width="0.35">0</text>
<line x1="103.2" y1="1002.2" x2="103.2" y2="1005.2" stroke="#000" stroke-width="1.2"/>
<text x="103.2" y="1022.7" font-family='"Liberation Sans", sans-serif' font-size="12.8" font-weight="normal" text-anchor="middle" fill="#000"  stroke="#000" stroke-width="0.35">50</text>
<line x1="147.5" y1="1002.2" x2="147.5" y2="1005.2" stroke="#000" stroke-width="1.2"/>
<text x="147.5" y="1022.7" font-family='"Liberation Sans", sans-serif' font-size="12.8" font-weight="normal" text-anchor="middle" fill="#000"  stroke="#000" stroke-width="0.35">100</text>
<line x1="191.9" y1="1002.2" x2="191.9" y2="1005.2" stroke="#000" stroke-width="1.2"/>
<text x="191.9" y="1022.7" font-family='"Liberation Sans", sans-serif' font-size="12.8" font-weight="normal" text-anchor="middle" fill="#000"  stroke="#000" stroke-width="0.35">150</text>
<line x1="236.3" y1="1002.2" x2="236.3" y2="1005.2" stroke="#000" stroke-width="1.2"/>
<text x="236.3" y="1022.7" font-family='"Liberation Sans", sans-serif' font-size="12.8" font-weight="normal" text-anchor="middle" fill="#000"  stroke="#000" stroke-width="0.35">200</text>
<line x1="280.6" y1="1002.2" x2="280.6" y2="1005.2" stroke="#000" stroke-width="1.2"/>
<text x="280.6" y="1022.7" font-family='"Liberation Sans", sans-serif' font-size="12.8" font-weight="normal" text-anchor="middle" fill="#000"  stroke="#000" stroke-width="0.35">250</text>
<line x1="55.8" y1="984.9" x2="58.8" y2="984.9" stroke="#000" stroke-width="1.2"/>
<text x="50.0" y="989.5" font-family='"Liberation Sans", sans-serif' font-size="12.8" font-weight="normal" text-anchor="end" fill="#000"  stroke="#000" stroke-width="0.35">100</text>
<line x1="55.8" y1="950.3" x2="58.8" y2="950.3" stroke="#000" stroke-width="1.2"/>
<text x="50.0" y="954.9" font-family='"Liberation Sans", sans-serif' font-size="12.8" font-weight="normal" text-anchor="end" fill="#000"  stroke="#000" stroke-width="0.35">120</text>
<line x1="55.8" y1="915.7" x2="58.8" y2="915.7" stroke="#000" stroke-width="1.2"/>
<text x="50.0" y="920.3" font-family='"Liberation Sans", sans-serif' font-size="12.8" font-weight="normal" text-anchor="end" fill="#000"  stroke="#000" stroke-width="0.35">140</text>
<line x1="55.8" y1="881.1" x2="58.8" y2="881.1" stroke="#000" stroke-width="1.2"/>
<text x="50.0" y="885.7" font-family='"Liberation Sans", sans-serif' font-size="12.8" font-weight="normal" text-anchor="end" fill="#000"  stroke="#000" stroke-width="0.35">160</text>
<line x1="55.8" y1="846.5" x2="58.8" y2="846.5" stroke="#000" stroke-width="1.2"/>
<text x="50.0" y="851.1" font-family='"Liberation Sans", sans-serif' font-size="12.8" font-weight="normal" text-anchor="end" fill="#000"  stroke="#000" stroke-width="0.35">180</text>
<text x="173.4" y="1047.0" font-family='"Liberation Sans", sans-serif' font-size="13.0" font-weight="bold" text-anchor="middle" fill="#000"  textLength="64.0" lengthAdjust="spacingAndGlyphs">time (sec)</text>
<text transform="translate(20.6,915.6) rotate(-90)" font-family='"Liberation Sans", sans-serif' font-size="13.9" font-weight="bold" text-anchor="middle" textLength="93" lengthAdjust="spacingAndGlyphs">position (x, y)</text>
<line x1="64.7" y1="841.6" x2="93" y2="841.6" stroke="#000" stroke-width="2.2"/>
<text x="99.6" y="845.4" font-family='"Liberation Sans", sans-serif' font-size="13.0" font-weight="normal" text-anchor="start" fill="#000"  stroke="#000" stroke-width="0.35">sim-x</text>
<line x1="64.7" y1="857.0" x2="93" y2="857.0" stroke="#000" stroke-width="1.5" stroke-dasharray="1.5,2.8"/>
<text x="99.6" y="860.8" font-family='"Liberation Sans", sans-serif' font-size="13.0" font-weight="normal" text-anchor="start" fill="#000"  stroke="#000" stroke-width="0.35">sim-y</text>
<line x1="64.7" y1="872.4" x2="93" y2="872.4" stroke="#e00000" stroke-width="2.2"/>
<text x="99.6" y="876.2" font-family='"Liberation Sans", sans-serif' font-size="13.0" font-weight="normal" text-anchor="start" fill="#000"  stroke="#000" stroke-width="0.35">track-x</text>
<line x1="64.7" y1="887.8" x2="93" y2="887.8" stroke="#e00000" stroke-width="1.5" stroke-dasharray="1.5,2.8"/>
<text x="99.6" y="891.6" font-family='"Liberation Sans", sans-serif' font-size="13.0" font-weight="normal" text-anchor="start" fill="#000"  stroke="#000" stroke-width="0.35">track-y</text>
<text x="65.0" y="996.5" font-family='"Liberation Serif", serif' font-weight="bold" font-size="32" fill="#000">J</text>
<path d="M350.5,833.0 H351.4 V833.0 H352.3 V836.1 H353.2 V833.0 H354.1 V833.0 H354.9 V846.8 H355.8 V833.0 H356.7 V837.5 H357.6 V833.0 H358.5 V837.7 H359.4 V856.5 H360.3 V857.6 H361.2 V833.0 H362.1 V833.0 H362.9 V855.3 H363.8 V867.4 H364.7 V875.0 H365.6 V867.1 H366.5 V833.0 H367.4 V857.6 H368.3 V855.4 H369.2 V833.0 H370.1 V866.8 H371.0 V890.4 H371.8 V900.0 H372.7 V867.4 H373.6 V860.6 H374.5 V884.5 H375.4 V913.8 H376.3 V841.9 H377.2 V887.1 H378.1 V926.9 H379.0 V904.2 H379.8 V888.4 H380.7 V901.9 H381.6 V889.9 H382.5 V904.1 H383.4 V854.6 H384.3 V928.8 H385.2 V879.0 H386.1 V903.8 H387.0 V870.8 H387.8 V873.0 H388.7 V893.7 H389.6 V918.0 H390.5 V908.9 H391.4 V891.5 H392.3 V936.5 H393.2 V891.0 H394.1 V927.3 H395.0 V899.4 H395.9 V930.5 H396.7 V860.4 H397.6 V924.5 H398.5 V899.0 H399.4 V859.2 H400.3 V889.2 H401.2 V898.7 H402.1 V885.6 H403.0 V916.6 H403.9 V896.0 H404.7 V912.8 H405.6 V903.9 H406.5 V906.7 H407.4 V887.6 H408.3 V903.5 H409.2 V915.7 H410.1 V912.7 H411.0 V902.1 H411.9 V912.7 H412.7 V894.8 H413.6 V907.6 H414.5 V914.4 H415.4 V916.9 H416.3 V921.1 H417.2 V911.9 H418.1 V928.0 H419.0 V955.1 H419.9 V897.6 H420.7 V870.0 H421.6 V893.9 H422.5 V906.6 H423.4 V916.4 H424.3 V951.9 H425.2 V927.6 H426.1 V890.6 H427.0 V949.2 H427.9 V928.5 H428.8 V940.9 H429.6 V920.6 H430.5 V925.1 H431.4 V964.2 H432.3 V908.4 H433.2 V923.1 H434.1 V965.5 H435.0 V918.8 H435.9 V873.1 H436.8 V917.0 H437.6 V936.8 H438.5 V925.4 H439.4 V910.6 H440.3 V920.4 H441.2 V916.3 H442.1 V945.2 H443.0 V937.6 H443.9 V916.0 H444.8 V913.4 H445.6 V919.2 H446.5 V909.3 H447.4 V942.6 H448.3 V941.2 H449.2 V951.6 H450.1 V927.9 H451.0 V899.2 H451.9 V913.8 H452.8 V889.5 H453.7 V935.2 H454.5 V918.1 H455.4 V920.8 H456.3 V925.7 H457.2 V937.7 H458.1 V930.3 H459.0 V928.7 H459.9 V920.7 H460.8 V934.9 H461.7 V900.0 H462.5 V928.9 H463.4 V939.9 H464.3 V942.7 H465.2 V940.4 H466.1 V948.5 H467.0 V931.7 H467.9 V928.8 H468.8 V923.4 H469.7 V932.0 H470.5 V936.6 H471.4 V936.7 H472.3 V975.9 H473.2 V889.7 H474.1 V946.2 H475.0 V942.3 H475.9 V923.4 H476.8 V921.6 H477.7 V919.8 H478.5 V929.6 H479.4 V935.4 H480.3 V934.5 H481.2 V914.6 H482.1 V936.9 H483.0 V940.6 H483.9 V925.4 H484.8 V949.4 H485.7 V922.0 H486.6 V932.9 H487.4 V958.1 H488.3 V936.8 H489.2 V945.6 H490.1 V933.7 H491.0 V937.3 H491.9 V939.3 H492.8 V969.5 H493.7 V933.7 H494.6 V947.8 H495.4 V955.2 H496.3 V930.2 H497.2 V947.4 H498.1 V986.2 H499.0 V954.8 H499.9 V933.2 H500.8 V940.3 H501.7 V935.4 H502.6 V928.6 H503.4 V932.1 H504.3 V958.3 H505.2 V939.8 H506.1 V926.2 H507.0 V920.9 H507.9 V958.7 H508.8 V902.7 H509.7 V951.3 H510.6 V957.8 H511.5 V955.2 H512.3 V933.1 H513.2 V950.1 H514.1 V931.8 H515.0 V945.2 H515.9 V937.9 H516.8 V951.8 H517.7 V939.8 H518.6 V934.0 H519.5 V944.0 H520.3 V944.0 H521.2 V930.9 H522.1 V943.5 H523.0 V934.9 H523.9 V951.7 H524.8 V940.9 H525.7 V941.2 H526.6 V944.3 H527.5 V963.7 H528.3 V955.9 H529.2 V942.6 H530.1 V991.0 H531.0 V949.8 H531.9 V941.7 H532.8 V963.2 H533.7 V897.4 H534.6 V940.3 H535.5 V979.3 H536.3 V964.2 H537.2 V949.7 H538.1 V982.9 H539.0 V942.4 H539.9 V958.8 H540.8 V957.8 H541.7 V958.3 H542.6 V948.3 H543.5 V958.4 H544.4 V942.2 H545.2 V971.3 H546.1 V945.5 H547.0 V951.4 H547.9 V937.1 H548.8 V933.5 H549.7 V951.0 H550.6 V942.2 H551.5 V950.8 H552.4 V956.2 H553.2 V955.1 H554.1 V957.3 H555.0 V934.6 H555.9 V943.9 H556.8 V897.9 H557.7 V959.9 H558.6 V961.1 H559.5 V945.6 H560.4 V959.4 H561.2 V961.0 H562.1 V949.5 H563.0 V964.7 H563.9 V900.7 H564.8 V932.3 H565.7 V947.8 H566.6 V936.9 H567.5 V956.5 H568.4 V950.0 H569.3 V981.9 H570.1 V944.2 H571.0 V964.8 H571.9 V964.7 H572.8 V955.7" fill="none" stroke="#8c8c8c" stroke-width="1.5"/>
<path d="M350.5,839.0 L350.9,839.7 L351.4,840.5 L351.8,841.3 L352.3,842.0 L352.7,842.8 L353.2,843.5 L353.6,844.3 L354.1,845.0 L354.5,845.7 L354.9,846.4 L355.4,847.2 L355.8,847.9 L356.3,848.6 L356.7,849.3 L357.2,850.0 L357.6,850.7 L358.1,851.4 L358.5,852.1 L358.9,852.8 L359.4,853.4 L359.8,854.1 L360.3,854.8 L360.7,855.4 L361.2,856.1 L361.6,856.8 L362.1,857.4 L362.5,858.1 L362.9,858.7 L363.4,859.3 L363.8,860.0 L364.3,860.6 L364.7,861.2 L365.2,861.9 L365.6,862.5 L366.1,863.1 L366.5,863.7 L367.0,864.3 L367.4,864.9 L367.8,865.5 L368.3,866.1 L368.7,866.7 L369.2,867.3 L369.6,867.9 L370.1,868.4 L370.5,869.0 L371.0,869.6 L371.4,870.1 L371.8,870.7 L372.3,871.3 L372.7,871.8 L373.2,872.4 L373.6,872.9 L374.1,873.5 L374.5,874.0 L375.0,874.5 L375.4,875.1 L375.8,875.6 L376.3,876.1 L376.7,876.7 L377.2,877.2 L377.6,877.7 L378.1,878.2 L378.5,878.7 L379.0,879.2 L379.4,879.7 L379.8,880.2 L380.3,880.7 L380.7,881.2 L381.2,881.7 L381.6,882.2 L382.1,882.7 L382.5,883.1 L383.0,883.6 L383.4,884.1 L383.8,884.6 L384.3,885.0 L384.7,885.5 L385.2,886.0 L385.6,886.4 L386.1,886.9 L386.5,887.3 L387.0,887.8 L387.4,888.2 L387.8,888.7 L388.3,889.1 L388.7,889.5 L389.2,890.0 L389.6,890.4 L390.1,890.8 L390.5,891.3 L391.0,891.7 L391.4,892.1 L391.8,892.5 L392.3,892.9 L392.7,893.3 L393.2,893.7 L393.6,894.2 L394.1,894.6 L394.5,895.0 L395.0,895.4 L395.4,895.8 L395.9,896.1 L396.3,896.5 L396.7,896.9 L397.2,897.3 L397.6,897.7 L398.1,898.1 L398.5,898.4 L399.0,898.8 L399.4,899.2 L399.9,899.6 L400.3,899.9 L400.7,900.3 L401.2,900.7 L401.6,901.0 L402.1,901.4 L402.5,901.7 L403.0,902.1 L403.4,902.4 L403.9,902.8 L404.3,903.1 L404.7,903.5 L405.2,903.8 L405.6,904.2 L406.1,904.5 L406.5,904.8 L407.0,905.2 L407.4,905.5 L407.9,905.8 L408.3,906.1 L408.7,906.5 L409.2,906.8 L409.6,907.1 L410.1,907.4 L410.5,907.7 L411.0,908.0 L411.4,908.4 L411.9,908.7 L412.3,909.0 L412.7,909.3 L413.2,909.6 L413.6,909.9 L414.1,910.2 L414.5,910.5 L415.0,910.8 L415.4,911.1 L415.9,911.4 L416.3,911.6 L416.7,911.9 L417.2,912.2 L417.6,912.5 L418.1,912.8 L418.5,913.1 L419.0,913.3 L419.4,913.6 L419.9,913.9 L420.3,914.2 L420.7,914.4 L421.2,914.7 L421.6,915.0 L422.1,915.2 L422.5,915.5 L423.0,915.8 L423.4,916.0 L423.9,916.3 L424.3,916.5 L424.8,916.8 L425.2,917.0 L425.6,917.3 L426.1,917.5 L426.5,917.8 L427.0,918.0 L427.4,918.3 L427.9,918.5 L428.3,918.8 L428.8,919.0 L429.2,919.2 L429.6,919.5 L430.1,919.7 L430.5,919.9 L431.0,920.2 L431.4,920.4 L431.9,920.6 L432.3,920.9 L432.8,921.1 L433.2,921.3 L433.6,921.5 L434.1,921.8 L434.5,922.0 L435.0,922.2 L435.4,922.4 L435.9,922.6 L436.3,922.8 L436.8,923.1 L437.2,923.3 L437.6,923.5 L438.1,923.7 L438.5,923.9 L439.0,924.1 L439.4,924.3 L439.9,924.5 L440.3,924.7 L440.8,924.9 L441.2,925.1 L441.6,925.3 L442.1,925.5 L442.5,925.7 L443.0,925.9 L443.4,926.1 L443.9,926.3 L444.3,926.5 L444.8,926.7 L445.2,926.8 L445.6,927.0 L446.1,927.2 L446.5,927.4 L447.0,927.6 L447.4,927.8 L447.9,927.9 L448.3,928.1 L448.8,928.3 L449.2,928.5 L449.6,928.6 L450.1,928.8 L450.5,929.0 L451.0,929.2 L451.4,929.3 L451.9,929.5 L452.3,929.7 L452.8,929.8 L453.2,930.0 L453.7,930.2 L454.1,930.3 L454.5,930.5 L455.0,930.7 L455.4,930.8 L455.9,931.0 L456.3,931.1 L456.8,931.3 L457.2,931.5 L457.7,931.6 L458.1,931.8 L458.5,931.9 L459.0,932.1 L459.4,932.2 L459.9,932.4 L460.3,932.5 L460.8,932.7 L461.2,932.8 L461.7,933.0 L462.1,933.1 L462.5,933.3 L463.0,933.4 L463.4,933.5 L463.9,933.7 L464.3,933.8 L464.8,934.0 L465.2,934.1 L465.7,934.2 L466.1,934.4 L466.5,934.5 L467.0,934.6 L467.4,934.8 L467.9,934.9 L468.3,935.0 L468.8,935.2 L469.2,935.3 L469.7,935.4 L470.1,935.6 L470.5,935.7 L471.0,935.8 L471.4,935.9 L471.9,936.1 L472.3,936.2 L472.8,936.3 L473.2,936.4 L473.7,936.6 L474.1,936.7 L474.5,936.8 L475.0,936.9 L475.4,937.0 L475.9,937.2 L476.3,937.3 L476.8,937.4 L477.2,937.5 L477.7,937.6 L478.1,937.7 L478.5,937.9 L479.0,938.0 L479.4,938.1 L479.9,938.2 L480.3,938.3 L480.8,938.4 L481.2,938.5 L481.7,938.6 L482.1,938.7 L482.6,938.8 L483.0,939.0 L483.4,939.1 L483.9,939.2 L484.3,939.3 L484.8,939.4 L485.2,939.5 L485.7,939.6 L486.1,939.7 L486.6,939.8 L487.0,939.9 L487.4,940.0 L487.9,940.1 L488.3,940.2 L488.8,940.3 L489.2,940.4 L489.7,940.5 L490.1,940.6 L490.6,940.7 L491.0,940.8 L491.4,940.8 L491.9,940.9 L492.3,941.0 L492.8,941.1 L493.2,941.2 L493.7,941.3 L494.1,941.4 L494.6,941.5 L495.0,941.6 L495.4,941.7 L495.9,941.7 L496.3,941.8 L496.8,941.9 L497.2,942.0 L497.7,942.1 L498.1,942.2 L498.6,942.3 L499.0,942.3 L499.4,942.4 L499.9,942.5 L500.3,942.6 L500.8,942.7 L501.2,942.8 L501.7,942.8 L502.1,942.9 L502.6,943.0 L503.0,943.1 L503.4,943.2 L503.9,943.2 L504.3,943.3 L504.8,943.4 L505.2,943.5 L505.7,943.5 L506.1,943.6 L506.6,943.7 L507.0,943.8 L507.4,943.8 L507.9,943.9 L508.3,944.0 L508.8,944.1 L509.2,944.1 L509.7,944.2 L510.1,944.3 L510.6,944.3 L511.0,944.4 L511.5,944.5 L511.9,944.5 L512.3,944.6 L512.8,944.7 L513.2,944.7 L513.7,944.8 L514.1,944.9 L514.6,944.9 L515.0,945.0 L515.5,945.1 L515.9,945.1 L516.3,945.2 L516.8,945.3 L517.2,945.3 L517.7,945.4 L518.1,945.5 L518.6,945.5 L519.0,945.6 L519.5,945.6 L519.9,945.7 L520.3,945.8 L520.8,945.8 L521.2,945.9 L521.7,945.9 L522.1,946.0 L522.6,946.1 L523.0,946.1 L523.5,946.2 L523.9,946.2 L524.3,946.3 L524.8,946.4 L525.2,946.4 L525.7,946.5 L526.1,946.5 L526.6,946.6 L527.0,946.6 L527.5,946.7 L527.9,946.7 L528.3,946.8 L528.8,946.8 L529.2,946.9 L529.7,947.0 L530.1,947.0 L530.6,947.1 L531.0,947.1 L531.5,947.2 L531.9,947.2 L532.3,947.3 L532.8,947.3 L533.2,947.4 L533.7,947.4 L534.1,947.5 L534.6,947.5 L535.0,947.6 L535.5,947.6 L535.9,947.7 L536.3,947.7 L536.8,947.8 L537.2,947.8 L537.7,947.8 L538.1,947.9 L538.6,947.9 L539.0,948.0 L539.5,948.0 L539.9,948.1 L540.4,948.1 L540.8,948.2 L541.2,948.2 L541.7,948.3 L542.1,948.3 L542.6,948.3 L543.0,948.4 L543.5,948.4 L543.9,948.5 L544.4,948.5 L544.8,948.6 L545.2,948.6 L545.7,948.6 L546.1,948.7 L546.6,948.7 L547.0,948.8 L547.5,948.8 L547.9,948.8 L548.4,948.9 L548.8,948.9 L549.2,949.0 L549.7,949.0 L550.1,949.0 L550.6,949.1 L551.0,949.1 L551.5,949.2 L551.9,949.2 L552.4,949.2 L552.8,949.3 L553.2,949.3 L553.7,949.3 L554.1,949.4 L554.6,949.4 L555.0,949.4 L555.5,949.5 L555.9,949.5 L556.4,949.6 L556.8,949.6 L557.2,949.6 L557.7,949.7 L558.1,949.7 L558.6,949.7 L559.0,949.8 L559.5,949.8 L559.9,949.8 L560.4,949.9 L560.8,949.9 L561.2,949.9 L561.7,950.0 L562.1,950.0 L562.6,950.0 L563.0,950.1 L563.5,950.1 L563.9,950.1 L564.4,950.2 L564.8,950.2 L565.2,950.2 L565.7,950.2 L566.1,950.3 L566.6,950.3 L567.0,950.3 L567.5,950.4 L567.9,950.4 L568.4,950.4 L568.8,950.5 L569.3,950.5 L569.7,950.5 L570.1,950.5 L570.6,950.6 L571.0,950.6 L571.5,950.6 L571.9,950.7 L572.4,950.7 L572.8,950.7" fill="none" stroke="#000" stroke-width="1.7"/>
<rect x="350.5" y="828.3" width="231.2" height="174.0" fill="none" stroke="#000" stroke-width="1.3"/>
<line x1="350.5" y1="1002.3" x2="350.5" y2="1005.3" stroke="#000" stroke-width="1.2"/>
<text x="350.5" y="1022.8" font-family='"Liberation Sans", sans-serif' font-size="12.6" font-weight="normal" text-anchor="middle" fill="#000"  stroke="#000" stroke-width="0.35">0</text>
<line x1="395.0" y1="1002.3" x2="395.0" y2="1005.3" stroke="#000" stroke-width="1.2"/>
<text x="395.0" y="1022.8" font-family='"Liberation Sans", sans-serif' font-size="12.6" font-weight="normal" text-anchor="middle" fill="#000"  stroke="#000" stroke-width="0.35">50</text>
<line x1="439.4" y1="1002.3" x2="439.4" y2="1005.3" stroke="#000" stroke-width="1.2"/>
<text x="439.4" y="1022.8" font-family='"Liberation Sans", sans-serif' font-size="12.6" font-weight="normal" text-anchor="middle" fill="#000"  stroke="#000" stroke-width="0.35">100</text>
<line x1="483.9" y1="1002.3" x2="483.9" y2="1005.3" stroke="#000" stroke-width="1.2"/>
<text x="483.9" y="1022.8" font-family='"Liberation Sans", sans-serif' font-size="12.6" font-weight="normal" text-anchor="middle" fill="#000"  stroke="#000" stroke-width="0.35">150</text>
<line x1="528.3" y1="1002.3" x2="528.3" y2="1005.3" stroke="#000" stroke-width="1.2"/>
<text x="528.3" y="1022.8" font-family='"Liberation Sans", sans-serif' font-size="12.6" font-weight="normal" text-anchor="middle" fill="#000"  stroke="#000" stroke-width="0.35">200</text>
<line x1="572.8" y1="1002.3" x2="572.8" y2="1005.3" stroke="#000" stroke-width="1.2"/>
<text x="572.8" y="1022.8" font-family='"Liberation Sans", sans-serif' font-size="12.6" font-weight="normal" text-anchor="middle" fill="#000"  stroke="#000" stroke-width="0.35">250</text>
<line x1="347.5" y1="1002.3" x2="350.5" y2="1002.3" stroke="#000" stroke-width="1.2"/>
<text x="342.1" y="1006.8" font-family='"Liberation Sans", sans-serif' font-size="12.6" font-weight="normal" text-anchor="end" fill="#000"  stroke="#000" stroke-width="0.35">0</text>
<line x1="347.5" y1="962.8" x2="350.5" y2="962.8" stroke="#000" stroke-width="1.2"/>
<text x="342.1" y="967.3" font-family='"Liberation Sans", sans-serif' font-size="12.6" font-weight="normal" text-anchor="end" fill="#000"  stroke="#000" stroke-width="0.35">50</text>
<line x1="347.5" y1="923.2" x2="350.5" y2="923.2" stroke="#000" stroke-width="1.2"/>
<text x="342.1" y="927.7" font-family='"Liberation Sans", sans-serif' font-size="12.6" font-weight="normal" text-anchor="end" fill="#000"  stroke="#000" stroke-width="0.35">100</text>
<line x1="347.5" y1="883.7" x2="350.5" y2="883.7" stroke="#000" stroke-width="1.2"/>
<text x="342.1" y="888.2" font-family='"Liberation Sans", sans-serif' font-size="12.6" font-weight="normal" text-anchor="end" fill="#000"  stroke="#000" stroke-width="0.35">150</text>
<line x1="347.5" y1="844.1" x2="350.5" y2="844.1" stroke="#000" stroke-width="1.2"/>
<text x="342.1" y="848.7" font-family='"Liberation Sans", sans-serif' font-size="12.6" font-weight="normal" text-anchor="end" fill="#000"  stroke="#000" stroke-width="0.35">200</text>
<text x="466.0" y="1047.5" font-family='"Liberation Sans", sans-serif' font-size="13.0" font-weight="bold" text-anchor="middle" fill="#000"  textLength="67.0" lengthAdjust="spacingAndGlyphs">time (sec)</text>
<text transform="translate(310.2,916.2) rotate(-90)" font-family='"Liberation Sans", sans-serif' font-size="13.9" font-weight="bold" text-anchor="middle" textLength="96" lengthAdjust="spacingAndGlyphs">intensity (a.u.)</text>
<text x="354.5" y="997.0" font-family='"Liberation Serif", serif' font-weight="bold" font-size="31" fill="#000">K</text>
</svg>
</body></html>
